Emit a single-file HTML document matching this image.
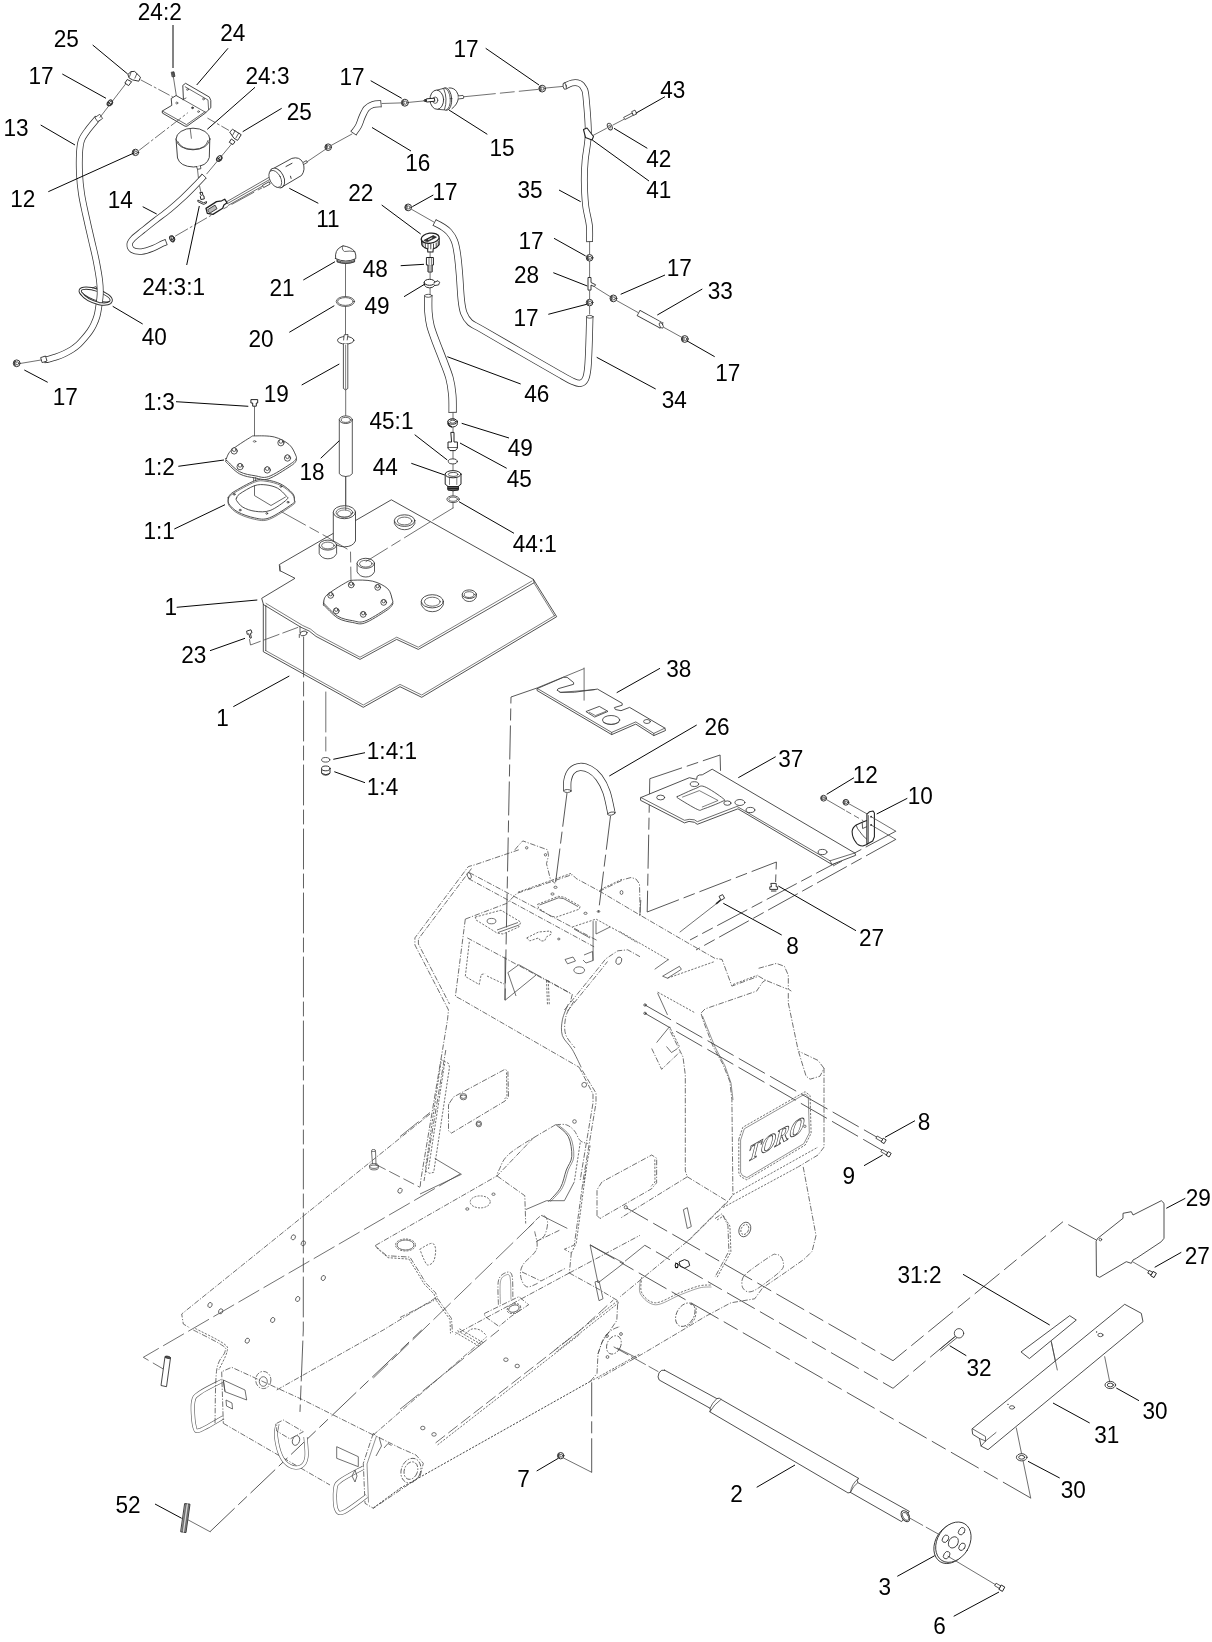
<!DOCTYPE html>
<html><head><meta charset="utf-8"><title>Parts diagram</title>
<style>
html,body{margin:0;padding:0;background:#fff;}
body{width:1212px;height:1642px;overflow:hidden;font-family:"Liberation Sans",sans-serif;}
svg{display:block;}
</style></head><body>
<svg width="1212" height="1642" viewBox="0 0 1212 1642">
<rect x="0" y="0" width="1212" height="1642" fill="#fff"/>
<g id="frame" fill="none" stroke="#484848" stroke-width="0.78"><path d="M537 688 L511 697 L505 1000" stroke="#3a3a3a" stroke-width="0.85" stroke-dasharray="34 5 12 5"/>
<path d="M567 793 L555 887" stroke="#3a3a3a" stroke-width="0.85" stroke-dasharray="34 5 12 5"/>
<path d="M610.5 816 L598.5 912" stroke="#3a3a3a" stroke-width="0.85" stroke-dasharray="34 5 12 5"/>
<path d="M649.8 778.7 L720.1 755 L721.1 792" stroke="#3a3a3a" stroke-width="0.85" stroke-dasharray="34 5 12 5"/>
<path d="M649.8 778.7 L647.2 912" stroke="#3a3a3a" stroke-width="0.85" stroke-dasharray="34 5 12 5"/>
<path d="M895.8 831.2 L690 940" stroke="#3a3a3a" stroke-width="0.85" stroke-dasharray="34 5 12 5"/>
<path d="M895.8 839.4 L696 950" stroke="#3a3a3a" stroke-width="0.85" stroke-dasharray="34 5 12 5"/>
<path d="M833 866 L842 861" stroke="#444" stroke-width="0.8"/>
<path d="M647.2 912 L776.4 862 L775.6 882" stroke="#3a3a3a" stroke-width="0.85" stroke-dasharray="34 5 12 5"/>
<path d="M645 1005 L881 1139.5" stroke="#3a3a3a" stroke-width="0.85" stroke-dasharray="30 6"/>
<path d="M645 1013.3 L886 1152.5" stroke="#3a3a3a" stroke-width="0.85" stroke-dasharray="30 6"/>
<path d="M1096.3 1240 L1063 1221.7 L893 1360.7 L626.7 1208" stroke="#3a3a3a" stroke-width="0.85" stroke-dasharray="32 6 16 6"/>
<path d="M954.7 1336.7 L893 1388.3 L644.8 1245.3" stroke="#3a3a3a" stroke-width="0.85" stroke-dasharray="32 6 16 6"/>
<path d="M1030.7 1498 L590.1 1244.9" stroke="#3a3a3a" stroke-width="0.85" stroke-dasharray="32 6 16 6"/>
<path d="M591.7 1472.3 V1382" stroke="#3a3a3a" stroke-width="0.85" stroke-dasharray="34 5 12 5"/>
<path d="M210 1531.7 L421.7 1330" stroke="#3a3a3a" stroke-width="0.85" stroke-dasharray="34 5 12 5"/>
<path d="M518.8 849.8 L475.2 864.7 L468.3 866.6 L414.9 937.9 L414.9 944.9 L446.5 1006.0 L448.5 1010.0 L447.5 1019.8 L442.6 1049.5 L420.8 1180.0 L420.2 1187.0" stroke-dasharray="5.5 1.6 1.2 1.6"/>
<path d="M471.5 868.5 L418.4 939.0 L418.4 944.0 L449.5 1004.0" stroke-dasharray="5.5 1.6 1.2 1.6"/>
<path d="M445.8 1050.0 L424.0 1181.0" stroke-dasharray="5.5 1.6 1.2 1.6"/>
<path d="M514.9 849.8 L518.0 846.0 L522.8 840.9 L547.5 849.8 L548.5 855.7 L546.5 863.7 L550.5 879.5 L556.4 884.5" stroke-dasharray="5.5 1.6 1.2 1.6"/>
<ellipse cx="526.7" cy="847.8" rx="1.2" ry="1.2" />
<ellipse cx="545.5" cy="854.8" rx="1.2" ry="1.2" />
<path d="M469.3 872.6 L598.0 940.9" stroke-dasharray="5.5 1.6 1.2 1.6"/>
<path d="M468.3 878.5 L594.1 946.8" stroke-dasharray="5.5 1.6 1.2 1.6"/>
<ellipse cx="469.2" cy="875.6" rx="1.8" ry="3.2" transform="rotate(-25.0 469.2 875.6)" />
<path d="M465.3 919.1 L506.9 903.3 L516.8 893.4 L572.3 874.6 L576.2 878.5 L600.0 891.4 L640.0 915.1 L687.3 942.6 L715.0 958.4 L722.0 959.4 L731.9 986.1 L758.6 976.2 L765.5 980.2 L787.3 989.1" stroke-dasharray="5.5 1.6 1.2 1.6"/>
<path d="M518.0 892.2 L571.5 873.2" stroke-dasharray="2.2 1.4"/>
<path d="M465.3 919.1 L455.4 996.3 L462.4 1000.0 L579.2 1067.3" stroke-dasharray="5.5 1.6 1.2 1.6"/>
<path d="M467.3 937.9 L572.3 994.4 L570.3 1002.3" stroke-dasharray="5.5 1.6 1.2 1.6"/>
<path d="M537.6 904.3 L558.4 896.3 L564.4 897.3 L580.2 906.2 L579.2 909.2 L556.4 917.1 L550.5 916.1 L538.6 908.2 Z" stroke-dasharray="2.2 1.4"/>
<path d="M539.5 905.0 L558.6 897.8 L563.8 898.7 L578.0 906.6"/>
<path d="M475.2 917.1 L501.0 910.2 L520.8 922.1 L518.8 927.0 L503.0 934.0 L497.0 933.0 L476.2 920.1 Z" stroke-dasharray="2.2 1.4"/>
<path d="M497.0 930.0 L518.0 922.5"/>
<path d="M498.0 932.5 L519.0 925.0"/>
<ellipse cx="491.5" cy="921.1" rx="4.4" ry="2.7" />
<path d="M526.7 937.9 L538.6 932.0 L550.5 931.0 L551.5 934.0 L546.5 936.9 L544.6 940.9 L540.6 940.9 L538.6 937.9 L529.7 940.9 Z" stroke-dasharray="2.2 1.4"/>
<path d="M565.0 959.5 L573.0 957.0 L575.5 961.0 L567.5 963.8 Z"/>
<ellipse cx="579.2" cy="970.2" rx="5.4" ry="3.4" />
<ellipse cx="558.8" cy="939.0" rx="1.2" ry="0.9" />
<ellipse cx="552.5" cy="894.0" rx="1.6" ry="1.1" />
<ellipse cx="555.5" cy="887.3" rx="1.6" ry="1.1" />
<ellipse cx="585.5" cy="913.3" rx="1.6" ry="1.1" />
<ellipse cx="598.5" cy="911.5" rx="1.3" ry="0.9" />
<path d="M572.3 927.0 L596.0 919.1 L617.8 931.0 L637.6 942.9" stroke-dasharray="2.2 1.4"/>
<path d="M593.1 921.1 L593.1 960.7"/>
<path d="M596.0 921.0 L596.0 934.0 L610.0 927.0"/>
<path d="M574.0 929.0 L590.0 938.0"/>
<path d="M584.0 955.0 L592.5 951.5 L593.0 960.5 L586.0 963.0 L583.0 960.0"/>
<path d="M469.3 941.9 L465.3 976.5 L479.2 984.5 L481.2 974.6 L485.1 973.6" stroke-dasharray="2.2 1.4"/>
<path d="M487.0 976.0 L504.0 984.0" stroke-dasharray="2.2 1.4"/>
<path d="M505.0 956.7 L505.0 1000.3 L536.6 974.6 L518.8 964.7 L507.9 972.6 L516.0 996.0"/>
<path d="M546.5 980.5 L547.5 1005.2" stroke-dasharray="2.2 1.4"/>
<path d="M548.3 980.5 L549.3 1005.2" stroke-dasharray="2.2 1.4"/>
<path d="M536.6 974.6 L553.0 983.5 L570.0 993.0" stroke-dasharray="5.5 1.6 1.2 1.6"/>
<path d="M564.4 1010.0 L598.0 968.6 L605.9 958.7 L617.8 950.8 L627.7 949.8 L640.0 956.7" stroke-dasharray="5.5 1.6 1.2 1.6"/>
<path d="M567.5 1011.0 L600.5 970.5 L607.5 961.5" stroke-dasharray="5.5 1.6 1.2 1.6"/>
<ellipse cx="618.8" cy="960.7" rx="2.8" ry="3.8" transform="rotate(20.0 618.8 960.7)" />
<path d="M599.0 891.4 L623.8 879.5 L631.0 877.5 L636.0 879.0 L639.5 884.0 L640.2 915.0" stroke-dasharray="5.5 1.6 1.2 1.6"/>
<path d="M600.5 889.5 L622.5 879.0" stroke-dasharray="2.2 1.4"/>
<ellipse cx="621.5" cy="892.5" rx="1.4" ry="2.0" />
<path d="M758.6 968.3 L776.4 963.4 L784.4 966.3 L788.3 975.2 L788.3 989.1 L791.3 991.1" stroke-dasharray="5.5 1.6 1.2 1.6"/>
<path d="M733.0 984.5 L757.5 975.2" stroke-dasharray="2.2 1.4"/>
<path d="M701.2 1012.9 L705.1 1008.9 L756.6 991.1 L762.6 982.2 L765.5 980.2" stroke-dasharray="5.5 1.6 1.2 1.6"/>
<path d="M701.2 1013.9 L703.2 1020.8 L713.1 1046.5 L723.0 1064.4 L729.9 1081.8 L731.9 1099.6 L732.9 1194.7 L727.9 1201.6 L687.3 1176.8 L685.3 1170.9 L685.3 1075.0 L683.0 1057.0 L669.5 1029.7" stroke-dasharray="5.5 1.6 1.2 1.6"/>
<path d="M702.5 1016.0 L715.0 1047.0 L725.0 1066.0 L731.0 1083.0 L733.0 1100.0" stroke-width="0.6"/>
<path d="M788.3 993.1 L788.3 1003.0 L798.2 1050.5 L806.1 1076.2 L810.1 1079.2 L820.0 1076.2 L824.0 1068.3 L824.0 1147.1 L818.0 1155.0 L798.2 1166.9" stroke-dasharray="5.5 1.6 1.2 1.6"/>
<path d="M824.0 1068.3 L818.0 1060.4 L799.2 1051.5" stroke-dasharray="5.5 1.6 1.2 1.6"/>
<path d="M732.9 1194.7 L818.0 1147.1" stroke-dasharray="2.2 1.4"/>
<path d="M723.0 1207.5 L798.2 1166.9" stroke-dasharray="2.2 1.4"/>
<path d="M803.2 1166.9 L816.0 1235.4 L812.1 1251.3 L804.2 1259.2 L784.4 1273.1 L762.6 1287.9 L754.7 1298.8 L730.9 1302.8 L705.1 1316.6 L685.3 1328.5 L641.8 1354.3 L598.0 1379.0" stroke-dasharray="5.5 1.6 1.2 1.6"/>
<path d="M738.8 1139.2 L742.8 1127.3 L805.1 1091.7 L810.1 1095.6 L811.1 1133.3 L805.1 1145.1 L746.7 1179.8 L740.8 1176.8 L738.8 1172.9 Z" stroke-dasharray="2.2 1.4"/>
<path d="M740.6 1140.0 L744.3 1128.8 L805.0 1094.0 L808.3 1096.8 L809.3 1133.0 L803.8 1143.7 L746.9 1177.6 L742.3 1175.4 L740.6 1172.3 Z" stroke-width="0.6"/>
<g transform="matrix(0.875 -0.485 -0.25 1 746.5 1162.5) scale(0.01061 -0.01221)" fill="none" stroke="#3c3c3c" stroke-width="74.5" stroke-dasharray="none"><path transform="translate(0 0)" d="M310 0V73L523 100V1235H472Q243 1235 150 1215L123 966H32V1341H1335V966H1243L1216 1215Q1133 1233 888 1233H839V100L1052 73V0Z"/><path transform="translate(1366 0)" d="M432 672Q432 353 519.5 216.5Q607 80 797 80Q986 80 1073.5 217.0Q1161 354 1161 672Q1161 989 1073.5 1122.0Q986 1255 797 1255Q607 1255 519.5 1122.0Q432 989 432 672ZM100 672Q100 1356 797 1356Q1141 1356 1317.0 1182.5Q1493 1009 1493 672Q1493 331 1315.0 155.5Q1137 -20 797 -20Q458 -20 279.0 155.0Q100 330 100 672Z"/><path transform="translate(2959 0)" d="M523 568V100L695 73V0H48V73L207 100V1242L35 1268V1341H676Q972 1341 1118.0 1250.0Q1264 1159 1264 966Q1264 678 994 596L1352 100L1497 73V0H1063L689 568ZM952 964Q952 1114 890.0 1172.5Q828 1231 663 1231H523V678H668Q822 678 887.0 742.0Q952 806 952 964Z"/><path transform="translate(4438 0)" d="M432 672Q432 353 519.5 216.5Q607 80 797 80Q986 80 1073.5 217.0Q1161 354 1161 672Q1161 989 1073.5 1122.0Q986 1255 797 1255Q607 1255 519.5 1122.0Q432 989 432 672ZM100 672Q100 1356 797 1356Q1141 1356 1317.0 1182.5Q1493 1009 1493 672Q1493 331 1315.0 155.5Q1137 -20 797 -20Q458 -20 279.0 155.0Q100 330 100 672Z"/></g>
<ellipse cx="804.8" cy="1126.3" rx="1.2" ry="1.2" />
<path d="M657.6 992.1 L695.2 1012.9" stroke-dasharray="2.2 1.4"/>
<path d="M657.6 993.1 L667.5 1014.9"/>
<path d="M654.7 969.3 L668.5 959.4"/>
<path d="M662.6 976.2 L679.4 966.3 L681.4 969.3 L667.5 978.2 Z"/>
<path d="M667.5 978.2 L715.0 961.4" stroke-dasharray="2.2 1.4"/>
<path d="M620.0 931.7 L669.5 960.4" stroke-dasharray="2.2 1.4"/>
<path d="M651.7 1048.5 L661.6 1069.3 L679.4 1052.5" stroke-dasharray="5.5 1.6 1.2 1.6"/>
<path d="M666.5 1046.5 L671.5 1052.5 L677.5 1048.5"/>
<path d="M670.5 1028.7 L679.4 1046.5" stroke-dasharray="2.2 1.4"/>
<path d="M656.6 1042.6 L669.5 1026.7"/>
<path d="M640.8 900.0 L639.8 915.8"/>
<path d="M582.2 1070.3 L596.0 1093.1 L596.0 1103.0 L583.2 1180.0 L574.3 1245.0 L564.4 1249.2 L571.3 1253.2 L569.3 1273.0" stroke-dasharray="5.5 1.6 1.2 1.6"/>
<path d="M579.2 1067.3 L593.0 1094.0 L593.0 1103.0 L580.2 1180.0" stroke-dasharray="5.5 1.6 1.2 1.6"/>
<path d="M586.1 1170.0 L576.2 1243.3 L571.3 1253.2" stroke-dasharray="2.2 1.4"/>
<path d="M568.3 1004.0 C567.3 1006.6 563.4 1014.5 562.4 1019.8 C561.4 1025.1 560.8 1030.6 562.4 1035.6 C564.0 1040.5 569.2 1044.2 572.3 1049.5 C575.4 1054.8 579.7 1064.3 581.2 1067.3"/>
<path d="M574.0 1001.0 C572.7 1003.5 567.4 1010.5 566.0 1016.0 C564.6 1021.5 564.0 1028.7 565.5 1034.0 C567.0 1039.3 573.4 1045.7 575.0 1048.0" stroke-dasharray="5.5 1.6 1.2 1.6"/>
<ellipse cx="584.2" cy="1084.8" rx="2.4" ry="2.4" />
<path d="M449.5 1103.0 L453.5 1097.0 L505.0 1069.3 L507.9 1071.3 L508.5 1097.0 L505.0 1101.0 L451.5 1133.1 L448.5 1130.7 L448.5 1105.0 Z" stroke-dasharray="5.5 1.6 1.2 1.6"/>
<path d="M506.5 1072.5 L507.0 1096.5 L504.0 1099.5" stroke-dasharray="2.2 1.4"/>
<ellipse cx="463.4" cy="1096.0" rx="3.2" ry="2.4" />
<ellipse cx="463.4" cy="1097.4" rx="3.2" ry="2.4" />
<ellipse cx="478.8" cy="1123.2" rx="2.6" ry="2.2" />
<ellipse cx="478.8" cy="1124.6" rx="2.6" ry="2.2" />
<path d="M440.6 1059.4 L448.5 1063.4 L449.5 1067.3 L433.7 1172.3 L429.7 1173.3 L423.8 1170.3" stroke-dasharray="2.2 1.4"/>
<path d="M444.5 1064.0 L428.5 1169.0" stroke-dasharray="2.2 1.4"/>
<path d="M441.0 1062.0 L425.5 1168.0" stroke-dasharray="2.2 1.4"/>
<path d="M555.4 1124.8 C557.2 1124.8 563.1 1123.8 566.3 1124.8 C569.4 1125.8 572.0 1128.1 574.3 1130.7 C576.6 1133.3 577.9 1138.4 580.2 1140.6 C582.5 1142.8 586.8 1143.1 588.1 1143.6" stroke-dasharray="5.5 1.6 1.2 1.6"/>
<path d="M556.4 1125.1 C558.4 1127.0 565.7 1131.4 568.3 1136.6 C570.9 1141.8 572.1 1150.8 571.8 1156.4 C571.5 1162.0 568.2 1164.8 566.3 1170.0 C564.4 1175.2 563.4 1182.5 560.4 1187.8 C557.4 1193.1 550.5 1199.4 548.5 1201.7" stroke-width="0.9"/>
<path d="M558.4 1125.1 C560.4 1127.0 567.7 1131.4 570.3 1136.6 C572.9 1141.8 574.1 1150.8 573.8 1156.4 C573.5 1162.0 570.2 1164.8 568.3 1170.0 C566.4 1175.2 565.4 1182.5 562.4 1187.8 C559.4 1193.1 552.5 1199.4 550.5 1201.7" stroke-width="0.6"/>
<path d="M555.4 1124.8 C548.0 1129.4 520.3 1145.0 510.9 1152.5 C501.5 1160.0 501.3 1166.1 499.0 1170.0 C496.7 1173.9 497.3 1174.9 497.0 1175.9" stroke-dasharray="5.5 1.6 1.2 1.6"/>
<ellipse cx="574.5" cy="1121.5" rx="1.8" ry="1.8" />
<path d="M580.2 1142.6 L574.3 1181.9" stroke-dasharray="2.2 1.4"/>
<path d="M590.1 1145.6 L583.5 1185.0" stroke-dasharray="2.2 1.4"/>
<path d="M400.0 1136.6 L430.0 1112.5" stroke-dasharray="24 5"/>
<path d="M430.0 1114.0 L181.7 1314.0 L183.3 1324.0 L190.0 1328.0" stroke-dasharray="5.5 1.6 1.2 1.6"/>
<path d="M434.7 1158.4 L461.4 1174.3 L420.0 1194.0"/>
<path d="M460.0 1174.0 L143.3 1357.3 L163.3 1369.0" stroke-dasharray="24 5"/>
<path d="M375.0 1164.0 L420.0 1187.3" stroke-dasharray="12 4"/>
<path d="M534.0 1137.3 L497.0 1175.9 L375.0 1245.7" stroke-dasharray="5.5 1.6 1.2 1.6"/>
<path d="M497.0 1175.9 L524.8 1195.7 L525.7 1223.5" stroke-dasharray="5.5 1.6 1.2 1.6"/>
<path d="M525.7 1209.6 L546.5 1200.7 L564.4 1200.7 L574.3 1181.9"/>
<path d="M371.5 1151.0 L372.5 1164.0"/>
<path d="M375.5 1150.5 L376.0 1164.0"/>
<ellipse cx="373.5" cy="1150.5" rx="2.0" ry="1.0" />
<ellipse cx="374.0" cy="1166.0" rx="4.5" ry="2.4" />
<ellipse cx="374.0" cy="1167.5" rx="4.5" ry="2.4" />
<path d="M375.0 1245.7 L386.7 1255.7 L409.9 1257.1 L419.8 1273.0 L425.7 1282.9 L435.6 1292.8 L437.6 1298.7 L451.5 1318.5 L452.5 1333.4" stroke-dasharray="5.5 1.6 1.2 1.6"/>
<path d="M376.5 1247.7 L388.0 1257.7 L409.0 1259.1 L418.5 1274.5 L424.5 1284.5 L434.0 1294.0 L436.0 1300.0 L450.0 1319.5 L450.5 1333.4" stroke-dasharray="2.2 1.4"/>
<ellipse cx="405.5" cy="1245.0" rx="10.0" ry="6.0"  stroke-dasharray="2 1.2"/>
<ellipse cx="405.5" cy="1245.0" rx="8.5" ry="5.0" />
<path d="M419.8 1249.2 C421.8 1248.2 429.1 1243.3 431.7 1243.3 C434.3 1243.3 435.3 1246.2 435.6 1249.2 C435.9 1252.2 435.0 1258.5 433.7 1261.1 C432.4 1263.7 429.3 1265.3 427.7 1265.0 C426.1 1264.7 425.1 1261.7 423.8 1259.1 C422.5 1256.5 420.5 1250.8 419.8 1249.2" stroke-dasharray="2.2 1.4"/>
<ellipse cx="480.2" cy="1201.9" rx="10.0" ry="6.0"  stroke-dasharray="2 1.2"/>
<ellipse cx="467.3" cy="1209.0" rx="1.6" ry="1.2" />
<ellipse cx="493.5" cy="1194.2" rx="1.6" ry="1.2" />
<path d="M400.0 1317.5 L437.6 1298.7" stroke-dasharray="5.5 1.6 1.2 1.6"/>
<path d="M534.0 1222.3 L373.3 1378.0" stroke-dasharray="24 5"/>
<ellipse cx="293.3" cy="1237.3" rx="2.0" ry="2.6" transform="rotate(25.0 293.3 1237.3)" />
<ellipse cx="303.3" cy="1243.3" rx="2.0" ry="2.6" transform="rotate(25.0 303.3 1243.3)" />
<ellipse cx="210.0" cy="1305.0" rx="2.0" ry="2.6" transform="rotate(25.0 210.0 1305.0)" />
<ellipse cx="220.7" cy="1311.3" rx="2.0" ry="2.6" transform="rotate(25.0 220.7 1311.3)" />
<ellipse cx="323.3" cy="1278.0" rx="2.0" ry="2.6" transform="rotate(25.0 323.3 1278.0)" />
<ellipse cx="297.7" cy="1299.0" rx="2.0" ry="2.6" transform="rotate(25.0 297.7 1299.0)" />
<ellipse cx="272.7" cy="1320.0" rx="2.0" ry="2.6" transform="rotate(25.0 272.7 1320.0)" />
<ellipse cx="247.3" cy="1340.7" rx="2.0" ry="2.6" transform="rotate(25.0 247.3 1340.7)" />
<ellipse cx="400.0" cy="1190.7" rx="2.0" ry="2.6" transform="rotate(25.0 400.0 1190.7)" />
<path d="M528.7 1227.4 C530.9 1225.4 538.5 1216.5 541.6 1215.5 C544.7 1214.5 547.0 1218.2 547.5 1221.5 C548.0 1224.8 546.4 1232.0 544.6 1235.3 C542.8 1238.6 537.9 1240.3 536.6 1241.3" stroke-dasharray="5.5 1.6 1.2 1.6"/>
<path d="M541.6 1215.5 L567.3 1228.4"/>
<path d="M534.7 1231.4 C535.0 1234.4 538.6 1243.6 536.6 1249.2 C534.6 1254.8 525.4 1260.4 522.8 1265.0 C520.2 1269.6 520.1 1273.3 520.8 1276.9 C521.4 1280.5 523.7 1285.8 526.7 1286.8 C529.7 1287.8 536.6 1283.6 538.6 1282.9" stroke-dasharray="5.5 1.6 1.2 1.6"/>
<path d="M536.6 1241.3 L560.0 1230.0" stroke-dasharray="5.5 1.6 1.2 1.6"/>
<path d="M522.0 1272.0 L541.0 1281.0 L566.0 1268.0" stroke-dasharray="5.5 1.6 1.2 1.6"/>
<path d="M498.4 1304.7 C498.4 1300.7 497.3 1286.2 498.4 1280.9 C499.5 1275.6 502.8 1274.0 505.0 1273.0 C507.2 1272.0 510.6 1270.7 511.9 1275.0 C513.2 1279.3 512.7 1294.8 512.9 1298.7" stroke-dasharray="5.5 1.6 1.2 1.6"/>
<path d="M500.4 1304.0 C500.4 1300.3 499.6 1286.7 500.4 1281.9 C501.2 1277.2 503.4 1276.3 505.0 1275.5 C506.6 1274.7 509.0 1273.0 510.0 1277.0 C511.0 1281.0 510.8 1295.8 511.0 1299.5" stroke-width="0.5"/>
<path d="M569.3 1273.0 L455.4 1334.4" stroke-dasharray="5.5 1.6 1.2 1.6"/>
<path d="M569.3 1273.0 L640.0 1235.3" stroke-dasharray="5.5 1.6 1.2 1.6"/>
<path d="M569.3 1273.0 L598.0 1288.8 L617.8 1300.7 L616.8 1320.5 L602.0 1342.3 L598.0 1353.8 L597.0 1373.6 L590.1 1381.5" stroke-dasharray="5.5 1.6 1.2 1.6"/>
<path d="M617.8 1300.7 L554.5 1350.0" stroke-dasharray="2.2 1.4"/>
<path d="M619.0 1302.5 L556.0 1352.0" stroke-dasharray="2.2 1.4"/>
<path d="M595.0 1281.9 L599.0 1280.9 L603.0 1298.7 L599.0 1300.7 Z"/>
<path d="M590.1 1244.9 L598.0 1282.9"/>
<path d="M590.1 1244.9 L623.8 1263.1 L598.0 1282.9"/>
<path d="M597.0 1215.5 L597.0 1189.8 L602.0 1181.9 L651.7 1155.0 L656.7 1158.3 L656.6 1182.8 L651.7 1188.7 L600.0 1218.5 Z" stroke-dasharray="5.5 1.6 1.2 1.6"/>
<path d="M654.8 1159.5 L655.0 1182.0 L650.5 1187.0" stroke-dasharray="2.2 1.4"/>
<path d="M687.3 1176.8 L620.0 1218.4" stroke-dasharray="5.5 1.6 1.2 1.6"/>
<path d="M727.9 1201.6 L689.3 1240.0" stroke-dasharray="5.5 1.6 1.2 1.6"/>
<path d="M484.2 1313.6 L518.8 1296.7 L528.7 1304.7 L510.9 1316.5 L499.0 1326.4 L485.1 1316.5 Z" stroke-dasharray="5.5 1.6 1.2 1.6"/>
<ellipse cx="513.9" cy="1308.6" rx="7.0" ry="4.6" transform="rotate(-20.0 513.9 1308.6)"  stroke-dasharray="2 1.2"/>
<ellipse cx="513.9" cy="1308.6" rx="5.4" ry="3.4" transform="rotate(-20.0 513.9 1308.6)" />
<path d="M455.4 1332.4 L479.2 1346.2" stroke-dasharray="2.2 1.4"/>
<path d="M457.4 1330.6 L481.2 1344.4" stroke-dasharray="2.2 1.4"/>
<path d="M459.4 1328.8 L483.2 1342.6" stroke-dasharray="2.2 1.4"/>
<path d="M465.0 1334.0 C466.2 1333.2 469.5 1329.7 472.0 1329.0 C474.5 1328.3 477.7 1329.0 480.0 1330.0 C482.3 1331.0 485.0 1334.2 486.0 1335.0" stroke-dasharray="2.2 1.4"/>
<path d="M741.8 1281.0 C742.6 1279.7 741.9 1277.2 746.7 1273.1 C751.5 1269.0 765.6 1259.3 770.5 1256.2 C775.4 1253.1 774.4 1254.5 776.0 1254.5 C777.6 1254.5 779.2 1254.8 780.4 1256.2 C781.6 1257.7 783.4 1260.7 783.4 1263.2 C783.4 1265.7 784.5 1267.0 780.4 1271.1 C776.3 1275.2 763.9 1284.4 758.6 1287.9 C753.3 1291.4 751.3 1291.9 748.7 1291.9 C746.1 1291.9 743.9 1289.7 742.8 1287.9 C741.6 1286.1 742.0 1282.2 741.8 1281.0" stroke-dasharray="5.5 1.6 1.2 1.6"/>
<ellipse cx="744.8" cy="1229.5" rx="5.6" ry="7.6" transform="rotate(25.0 744.8 1229.5)" />
<ellipse cx="744.8" cy="1229.5" rx="3.6" ry="5.2" transform="rotate(25.0 744.8 1229.5)"  stroke-dasharray="2 1.2"/>
<path d="M715.0 1218.6 L722.0 1213.7 L727.9 1225.5 L728.9 1251.3 L715.0 1277.0" stroke-dasharray="5.5 1.6 1.2 1.6"/>
<path d="M717.0 1220.0 L723.5 1216.0 L729.9 1226.0 L730.9 1251.8 L717.0 1277.5" stroke-dasharray="2.2 1.4"/>
<path d="M683.4 1209.7 L687.3 1207.7 L691.3 1226.5 L687.3 1228.5 Z"/>
<path d="M679 1262l5.5-2.4l4 1.6l1.2 4.4l-5 2.6l-4.4-1.8z" stroke="#222" stroke-width="1"/><ellipse cx="676.6" cy="1265.4" rx="1.4" ry="2.2" stroke="#111" stroke-width="1.1"/>
<path d="M641.8 1277.0 C641.8 1279.7 639.5 1288.6 641.8 1292.9 C644.1 1297.2 649.3 1302.8 655.6 1302.8 C661.9 1302.8 672.1 1295.7 679.4 1292.9 C686.7 1290.1 693.9 1287.2 699.2 1285.9 C704.5 1284.6 709.1 1285.2 711.1 1285.0" stroke-dasharray="2.2 1.4"/>
<path d="M640.5 1279.0 C640.5 1281.5 638.0 1289.7 640.5 1294.0 C643.0 1298.3 649.0 1304.6 655.6 1304.8 C662.2 1305.0 672.7 1297.7 680.0 1294.9 C687.3 1292.1 694.2 1289.2 699.5 1287.9 C704.8 1286.6 709.5 1287.2 711.5 1287.0" stroke-width="0.5"/>
<ellipse cx="685.3" cy="1314.7" rx="8.6" ry="12.6" transform="rotate(30.0 685.3 1314.7)"  stroke-dasharray="5 1.5 1.5 1.5"/>
<path d="M690.0 1304.0 C691.0 1304.7 695.3 1305.3 696.0 1308.0 C696.7 1310.7 695.7 1316.8 694.0 1320.0 C692.3 1323.2 687.3 1325.8 686.0 1327.0" stroke-dasharray="2.2 1.4"/>
<path d="M687.3 1241.4 L620.0 1296.8" stroke-dasharray="5.5 1.6 1.2 1.6"/>
<path d="M725.0 1203.8 L687.3 1241.4" stroke-dasharray="5.5 1.6 1.2 1.6"/>
<path d="M644.8 1245.3 L625.0 1261.2"/>
<ellipse cx="625.8" cy="1207.3" rx="1.6" ry="1.6" />
<path d="M598.0 1353.8 C599.0 1351.2 601.7 1341.9 604.0 1337.9 C606.3 1333.9 609.2 1331.9 611.9 1330.0 C614.6 1328.1 618.6 1327.1 620.0 1326.5" stroke-dasharray="5.5 1.6 1.2 1.6"/>
<ellipse cx="613.9" cy="1344.9" rx="6.8" ry="9.6" transform="rotate(25.0 613.9 1344.9)"  stroke-dasharray="5 1.5 1.5 1.5"/>
<ellipse cx="607.0" cy="1336.0" rx="1.4" ry="1.4" />
<ellipse cx="621.0" cy="1334.0" rx="1.4" ry="1.4" />
<ellipse cx="607.5" cy="1357.0" rx="1.4" ry="1.4" />
<path d="M590.1 1381.5 L640.0 1353.8" stroke-dasharray="2.2 1.4"/>
<path d="M617.0 1348.0 L637.0 1358.0"/>
<path d="M400.0 1488.4 L590.1 1381.5" stroke-dasharray="2.2 1.4" stroke-width="1.0"/>
<path d="M373.3 1508.0 L400.0 1488.4" stroke-dasharray="2.2 1.4" stroke-width="1.0"/>
<path d="M435.6 1442.9 L578.2 1332.0 L613.3 1300.0" stroke-dasharray="12 4"/>
<path d="M437.6 1444.9 L580.2 1334.0" stroke-dasharray="2.2 1.4"/>
<path d="M373.3 1435.0 L486.7 1336.7" stroke-dasharray="5.5 1.6 1.2 1.6"/>
<path d="M373.3 1435.0 L303.3 1400.0 L231.7 1367.3 L221.7 1371.7" stroke-dasharray="5.5 1.6 1.2 1.6"/>
<path d="M223.3 1423.3 L330.0 1485.0" stroke-dasharray="5.5 1.6 1.2 1.6"/>
<path d="M276.7 1390.0 L383.3 1330.0 L436.7 1297.3" stroke-dasharray="5.5 1.6 1.2 1.6"/>
<path d="M400.0 1409.2 L469.3 1353.8 L499.0 1330.0" stroke-dasharray="24 5"/>
<ellipse cx="505.9" cy="1359.7" rx="2.2" ry="1.8" />
<ellipse cx="517.2" cy="1366.0" rx="2.2" ry="1.8" />
<ellipse cx="422.8" cy="1428.0" rx="2.2" ry="1.8" />
<ellipse cx="434.0" cy="1434.4" rx="2.2" ry="1.8" />
<ellipse cx="410.9" cy="1470.6" rx="9.6" ry="12.6" transform="rotate(20.0 410.9 1470.6)"  stroke-dasharray="5 1.5 1.5 1.5"/>
<ellipse cx="410.9" cy="1470.6" rx="6.6" ry="9.0" transform="rotate(20.0 410.9 1470.6)"  stroke-dasharray="5 1.5 1.5 1.5"/>
<path d="M373.3 1433.3 L363.3 1463.3 L365.0 1503.3 L373.3 1508.3 L420.0 1476.7 L423.3 1463.3 L416.0 1455.0 L400.0 1448.0 L376.0 1436.0 Z" stroke-dasharray="5.5 1.6 1.2 1.6"/>
<path d="M376.5 1436.0 L367.0 1464.0 L368.5 1502.5" stroke-width="0.6"/>
<path d="M379.0 1437.0 L381.5 1446.0 L376.0 1456.0"/>
<path d="M384.0 1448.0 L388.0 1443.5 L391.5 1445.5"/>
<path d="M221.7 1381.0 C218.1 1383.0 204.8 1389.2 200.0 1392.7 C195.2 1396.2 194.1 1396.2 193.2 1401.7 C192.2 1407.2 193.2 1421.0 194.3 1425.7 C195.4 1430.5 195.0 1431.6 199.8 1430.2 C204.6 1428.8 219.4 1419.5 223.3 1417.3" stroke="#5a5a5a" stroke-width="4.2" stroke-dasharray="none"/><path d="M221.7 1381.0 C218.1 1383.0 204.8 1389.2 200.0 1392.7 C195.2 1396.2 194.1 1396.2 193.2 1401.7 C192.2 1407.2 193.2 1421.0 194.3 1425.7 C195.4 1430.5 195.0 1431.6 199.8 1430.2 C204.6 1428.8 219.4 1419.5 223.3 1417.3" stroke="#fff" stroke-width="3.0"/>
<path d="M363.3 1467.7 C359.4 1469.9 344.7 1477.3 340.0 1481.0 C335.3 1484.7 335.8 1485.3 335.2 1490.0 C334.6 1494.7 334.8 1505.3 336.2 1509.0 C337.6 1512.7 338.7 1514.2 343.8 1512.0 C348.9 1509.8 362.9 1498.7 366.7 1496.0" stroke="#5a5a5a" stroke-width="4.2" stroke-dasharray="none"/><path d="M363.3 1467.7 C359.4 1469.9 344.7 1477.3 340.0 1481.0 C335.3 1484.7 335.8 1485.3 335.2 1490.0 C334.6 1494.7 334.8 1505.3 336.2 1509.0 C337.6 1512.7 338.7 1514.2 343.8 1512.0 C348.9 1509.8 362.9 1498.7 366.7 1496.0" stroke="#fff" stroke-width="3.0"/>
<path d="M277.5 1424.0 C277.2 1426.0 275.4 1430.7 276.0 1436.0 C276.6 1441.3 278.7 1451.0 281.0 1456.0 C283.3 1461.0 286.7 1464.2 290.0 1466.0 C293.3 1467.8 298.2 1468.0 301.0 1466.5 C303.8 1465.0 305.8 1461.9 306.5 1457.0 C307.2 1452.1 305.7 1440.3 305.5 1437.0" stroke="#5a5a5a" stroke-width="4.0" stroke-dasharray="none"/><path d="M277.5 1424.0 C277.2 1426.0 275.4 1430.7 276.0 1436.0 C276.6 1441.3 278.7 1451.0 281.0 1456.0 C283.3 1461.0 286.7 1464.2 290.0 1466.0 C293.3 1467.8 298.2 1468.0 301.0 1466.5 C303.8 1465.0 305.8 1461.9 306.5 1457.0 C307.2 1452.1 305.7 1440.3 305.5 1437.0" stroke="#fff" stroke-width="2.8"/>
<path d="M276.7 1423.3 L283.3 1420.0 L303.3 1431.7 L290.0 1439.0 L276.7 1431.0 Z" stroke-dasharray="5.5 1.6 1.2 1.6"/>
<ellipse cx="296.0" cy="1440.5" rx="3.5" ry="5.0" transform="rotate(20.0 296.0 1440.5)" />
<path d="M223.3 1380.0 L245.0 1390.0 L246.7 1400.0 L225.0 1391.7 Z"/>
<path d="M223.3 1380.0 L225.0 1391.7"/>
<path d="M336.7 1446.7 L358.3 1456.7 L358.3 1466.7 L336.7 1458.3 Z"/>
<path d="M226.0 1400.0 L232.0 1403.0 L232.5 1409.0 L226.5 1406.0 Z"/>
<ellipse cx="263.3" cy="1380.0" rx="7.6" ry="8.6"  stroke-dasharray="5 1.5 1.5 1.5"/>
<ellipse cx="263.3" cy="1381.5" rx="4.0" ry="4.8" />
<path d="M193.3 1330.0 C198.0 1332.5 216.4 1341.4 221.7 1345.0 C227.0 1348.6 225.8 1347.5 225.0 1351.7 C224.2 1355.9 218.4 1358.1 216.7 1370.0 C215.0 1381.9 215.3 1414.4 215.0 1423.3" stroke-dasharray="5.5 1.6 1.2 1.6"/>
<path d="M195.3 1328.5 C200.0 1331.0 218.2 1339.6 223.5 1343.5 C228.8 1347.4 227.8 1347.3 227.0 1351.7 C226.2 1356.1 220.1 1367.0 218.7 1370.0" stroke-dasharray="2.2 1.4"/>
<path d="M221.7 1371.7 L223.3 1423.3" stroke-dasharray="5.5 1.6 1.2 1.6"/>
<path d="M355.0 1470.0 L357.0 1476.0 L355.0 1482.0 L352.0 1476.0 Z"/>
<path d="M165 1356.7l5.5 1.2l-4 28.8l-5.5-1.2z" fill="#fff" stroke="#333" stroke-width="0.9"/><ellipse cx="167.8" cy="1357.3" rx="2.8" ry="1.1" transform="rotate(12 167.8 1357.3)" fill="#555" stroke="#222" stroke-width="0.7"/></g>
<g id="parts" fill="none" stroke="#3a3a3a" stroke-width="0.8" stroke-linecap="round" stroke-linejoin="round"><ellipse cx="95.7" cy="295.6" rx="16.3" ry="5.6" transform="rotate(19.0 95.7 295.6)" stroke="#303030" stroke-width="3.2"/>
<ellipse cx="95.7" cy="295.6" rx="16.3" ry="5.6" transform="rotate(19.0 95.7 295.6)" stroke="#fff" stroke-width="1.35"/>
<path d="M97.6 118.1 C96.0 120.0 90.9 125.8 88.2 129.5 C85.5 133.2 83.0 136.2 81.5 140.2 C80.0 144.2 79.8 148.0 79.5 153.6 C79.2 159.2 79.2 167.0 79.5 173.7 C79.8 180.4 80.5 187.0 81.5 193.7 C82.5 200.4 83.8 206.0 85.5 213.8 C87.2 221.6 89.8 232.8 91.6 240.6 C93.4 248.4 94.9 254.0 96.2 260.7 C97.5 267.4 98.9 275.2 99.6 280.8 C100.3 286.4 100.3 290.2 100.2 294.2 C100.1 298.2 99.5 301.4 99.0 305.0 C98.5 308.6 97.9 312.7 97.0 316.0 C96.1 319.3 94.7 322.5 93.5 325.0 C92.3 327.5 91.5 328.8 90.0 331.0 C88.5 333.2 86.4 335.8 84.5 338.0 C82.6 340.2 80.6 342.6 78.5 344.5 C76.4 346.4 74.3 348.0 72.0 349.5 C69.7 351.0 67.4 352.2 64.7 353.5 C62.0 354.8 58.7 356.1 56.0 357.0 C53.3 357.9 50.4 358.7 48.5 359.2 C46.6 359.7 45.2 359.7 44.5 359.8" stroke="#333333" stroke-width="6.8" stroke-linecap="butt" fill="none"/><path d="M97.6 118.1 C96.0 120.0 90.9 125.8 88.2 129.5 C85.5 133.2 83.0 136.2 81.5 140.2 C80.0 144.2 79.8 148.0 79.5 153.6 C79.2 159.2 79.2 167.0 79.5 173.7 C79.8 180.4 80.5 187.0 81.5 193.7 C82.5 200.4 83.8 206.0 85.5 213.8 C87.2 221.6 89.8 232.8 91.6 240.6 C93.4 248.4 94.9 254.0 96.2 260.7 C97.5 267.4 98.9 275.2 99.6 280.8 C100.3 286.4 100.3 290.2 100.2 294.2 C100.1 298.2 99.5 301.4 99.0 305.0 C98.5 308.6 97.9 312.7 97.0 316.0 C96.1 319.3 94.7 322.5 93.5 325.0 C92.3 327.5 91.5 328.8 90.0 331.0 C88.5 333.2 86.4 335.8 84.5 338.0 C82.6 340.2 80.6 342.6 78.5 344.5 C76.4 346.4 74.3 348.0 72.0 349.5 C69.7 351.0 67.4 352.2 64.7 353.5 C62.0 354.8 58.7 356.1 56.0 357.0 C53.3 357.9 50.4 358.7 48.5 359.2 C46.6 359.7 45.2 359.7 44.5 359.8" stroke="#fff" stroke-width="5.3" stroke-linecap="butt" fill="none"/><path d="M95.3 116.2L99.9 120.0" stroke="#333333" stroke-width="0.76"/><path d="M44.9 362.8L44.1 356.8" stroke="#333333" stroke-width="0.76"/>
<path d="M81.2 293.2 Q86 300.5 99 303.6 Q107 305 110.6 302.4" stroke="#303030" stroke-width="3.2" stroke-linecap="butt"/><path d="M81.2 293.2 Q86 300.5 99 303.6 Q107 305 110.6 302.4" stroke="#fff" stroke-width="1.35" stroke-linecap="butt"/>
<path d="M92.5 287.8l3.6-1.2l0.8 2.4" stroke="#303030" stroke-width="0.81"/>
<path d="M41 357.5l4.5-1.5l1.5 5l-4.5 1.5z" fill="#fff" stroke="#303030" stroke-width="0.90"/>
<path d="M20.0 363.5L41.0 360.0" stroke="#444" stroke-width="0.76"/>
<circle cx="16.7" cy="363.3" r="3.4" fill="#fff" stroke="#303030" stroke-width="0.99"/>
<path d="M14.8 360.6 A3.4 3.4 0 0 0 14.8 366.0 L16.4 365.2 A2.0 2.0 0 0 1 16.4 361.4 Z" fill="#444" stroke="none"/>
<circle cx="17.2" cy="363.3" r="1.5" fill="#fff" stroke="#3c3c3c" stroke-width="0.76"/>
<path d="M95.2 117.3l4.6-3l2.8 4.2l-4.6 3z" fill="#fff" stroke="#303030"/>
<path d="M126.6 82.7L100.0 117.3" stroke="#444" stroke-width="0.76"/>
<g transform="rotate(40.0 109.8 102.8)"><ellipse cx="109.8" cy="102.8" rx="2.0" ry="3.2" fill="#fff" stroke="#303030" stroke-width="1.17"/><ellipse cx="110.9" cy="102.8" rx="1.6" ry="2.7" fill="none" stroke="#303030" stroke-width="0.76"/><path d="M108.5 103.4h3.5" stroke="#303030" stroke-width="1.08"/></g>
<path d="M127.6 79.7 L131.6 81.7 L128.6 85.6 L125.2 83.3 Z" fill="#fff" stroke="#303030" stroke-width="0.99"/>
<path d="M128.2 74.2 L131.0 71.6 L134.6 71.4 L140.5 77.2 L138.8 81.2 L132.6 79.9 L129.5 78.2 Z" fill="#fff" stroke="#303030" stroke-width="0.99"/>
<path d="M136.8 73.8l-1.9 4.4M131.2 71.8l-1.6 4.6" stroke="#303030" stroke-width="0.76"/>
<path d="M141.0 80.0L172.5 96.8" stroke="#444" stroke-width="0.76" stroke-dasharray="12 3 2 3"/>
<path d="M171.6 72.2l2.4-0.4l0.9 4.6l-2.4 0.4z" fill="#555" stroke="#303030" stroke-width="0.81"/>
<path d="M173.4 77.0L176.6 97.5" stroke="#444" stroke-width="0.76"/>
<path d="M183.1 85.2 L185.6 83.3 L209.4 97.1 L210.8 100.5 L210.8 107.8 L204.9 113.4 L187.0 126.2 L185.0 126.2 L162.3 113.0 L162.3 111.0 L171.8 105.4 L171.2 98.5 L176.1 95.5 L183.1 99.5 Z" fill="#fff" stroke="#303030" stroke-width="0.90"/>
<path d="M183.1 99.5L205.8 112.4M185.2 86.8L208 100l0.6 9.6M183.1 99.5L186 98M162.3 111L186.5 124.6L204.9 111.8" stroke="#3c3c3c" stroke-width="0.76"/>
<circle cx="187.5" cy="89.5" r="0.9" stroke="#3c3c3c" stroke-width="0.66"/><circle cx="203.5" cy="99" r="0.9" stroke="#3c3c3c" stroke-width="0.66"/><circle cx="176.8" cy="103" r="1" stroke="#3c3c3c" stroke-width="0.66"/><circle cx="192.5" cy="107.8" r="0.9" fill="#3c3c3c"/><circle cx="198.5" cy="111.6" r="0.9" stroke="#3c3c3c" stroke-width="0.66"/>
<path d="M139.5 150.0L187.5 113.0" stroke="#444" stroke-width="0.76" stroke-dasharray="12 3 2 3"/>
<circle cx="135.5" cy="152.4" r="3.2" fill="#fff" stroke="#303030" stroke-width="0.99"/>
<path d="M133.7 149.8 A3.2 3.2 0 0 0 133.7 155.0 L135.2 154.2 A1.9 1.9 0 0 1 135.2 150.6 Z" fill="#444" stroke="none"/>
<circle cx="136.0" cy="152.4" r="1.4" fill="#fff" stroke="#3c3c3c" stroke-width="0.76"/>
<path d="M207.8 118.3L228.6 130.2" stroke="#444" stroke-width="0.76" stroke-dasharray="8 3 2 3"/>
<path d="M176 139 L177.5 158 Q180 166.5 193.5 167 Q207 166.5 209.3 157.5 L209.8 139" fill="#fff" stroke="#303030" stroke-width="0.90"/>
<ellipse cx="193.0" cy="139.0" rx="16.9" ry="10.8" fill="#fff" stroke="#303030" stroke-width="0.90"/>
<path d="M177.8 141.5 Q181 149.5 194 149.3 Q206 148.8 208 140.5" stroke="#3c3c3c" stroke-width="0.76"/>
<path d="M190.2 128.5L191.4 138.3" stroke="#444" stroke-width="0.76"/>
<path d="M196.5 166.5l1 2.8l3.4-0.6l-0.5-2.8" fill="#fff" stroke="#303030" stroke-width="0.81"/>
<path d="M197.5 169.5L198.5 178.5" stroke="#444" stroke-width="0.76"/>
<path d="M204.2 176.1 C202.5 177.8 197.9 182.8 194.3 186.5 C190.7 190.2 186.8 194.2 182.7 198.0 C178.6 201.8 174.0 205.9 169.5 209.6 C165.0 213.3 159.9 216.9 155.5 220.3 C151.1 223.7 146.8 227.2 143.1 230.2 C139.4 233.2 135.4 236.1 133.2 238.4 C131.0 240.7 129.8 242.3 129.7 244.2 C129.6 246.1 130.4 248.8 132.4 250.0 C134.4 251.2 138.1 251.9 141.5 251.6 C144.9 251.3 149.4 249.7 153.0 248.3 C156.6 246.9 160.7 244.4 162.9 243.4 C165.1 242.4 165.6 242.3 166.2 242.1" stroke="#333333" stroke-width="6.3" stroke-linecap="butt" fill="none"/><path d="M204.2 176.1 C202.5 177.8 197.9 182.8 194.3 186.5 C190.7 190.2 186.8 194.2 182.7 198.0 C178.6 201.8 174.0 205.9 169.5 209.6 C165.0 213.3 159.9 216.9 155.5 220.3 C151.1 223.7 146.8 227.2 143.1 230.2 C139.4 233.2 135.4 236.1 133.2 238.4 C131.0 240.7 129.8 242.3 129.7 244.2 C129.6 246.1 130.4 248.8 132.4 250.0 C134.4 251.2 138.1 251.9 141.5 251.6 C144.9 251.3 149.4 249.7 153.0 248.3 C156.6 246.9 160.7 244.4 162.9 243.4 C165.1 242.4 165.6 242.3 166.2 242.1" stroke="#fff" stroke-width="4.8" stroke-linecap="butt" fill="none"/><path d="M202.2 174.2L206.2 178.0" stroke="#333333" stroke-width="0.76"/><path d="M165.2 239.5L167.2 244.7" stroke="#333333" stroke-width="0.76"/>
<g transform="rotate(-28.0 172.0 238.8)"><ellipse cx="172.0" cy="238.8" rx="2.0" ry="3.2" fill="#fff" stroke="#303030" stroke-width="1.17"/><ellipse cx="173.1" cy="238.8" rx="1.6" ry="2.7" fill="none" stroke="#303030" stroke-width="0.76"/><path d="M170.7 239.4h3.5" stroke="#303030" stroke-width="1.08"/></g>
<path d="M175.5 236.0L212.8 214.4" stroke="#444" stroke-width="0.76" stroke-dasharray="14 3 2 3"/>
<path d="M224.0 208.6L268.0 184.6" stroke="#444" stroke-width="0.76" stroke-dasharray="4 5 25 5"/>
<path d="M231.7 139.2 L235.0 141.7 L232.9 144.6 L229.6 142.5 Z" fill="#fff" stroke="#303030" stroke-width="0.99"/>
<path d="M230.0 131.8 L232.5 129.3 L241.2 134.7 L238.8 138.6 L237.5 140.4 L234.2 138.4 Z" fill="#fff" stroke="#303030" stroke-width="0.99"/>
<path d="M235 130.9l-2.4 4.4M238.6 133.2l-2.6 4.6" stroke="#303030" stroke-width="0.76"/>
<path d="M231.6 144.0L206.8 173.8" stroke="#444" stroke-width="0.76"/>
<g transform="rotate(40.0 219.2 158.4)"><ellipse cx="219.2" cy="158.4" rx="2.0" ry="3.2" fill="#fff" stroke="#303030" stroke-width="1.17"/><ellipse cx="220.3" cy="158.4" rx="1.6" ry="2.7" fill="none" stroke="#303030" stroke-width="0.76"/><path d="M217.9 159.0h3.5" stroke="#303030" stroke-width="1.08"/></g>
<path d="M200.2 192.6l2.2-0.3l0.5 3.2l1 0.4l0.4 3l-3.4 0.6l-0.6-3l0.7-0.6z" fill="#fff" stroke="#202020" stroke-width="0.99"/><path d="M198.2 200.2l5.4 2.6l3-1.2l-0.2 1.6l-2.8 1.2l-5.4-2.6z" fill="#fff" stroke="#202020" stroke-width="0.90"/>
<path d="M199.6 186.2L201.0 192.4" stroke="#444" stroke-width="0.76"/>
<path d="M226.6 201.8L270 176.8M227.4 203.6L272 178.2M228.2 205.4L273 180.2" stroke="#3c3c3c" stroke-width="0.76"/>
<path d="M206 208.4l10.5-6.8l5.2-0.8l3 -1.6l2.4 3.6l-3.2 2.2l-1.2 3.2l-9.8 6.2l-5.6-1z" fill="#fff" stroke="#202020" stroke-width="1.26"/>
<path d="M208 209.5l7-4.4l2 3.6l-7 4.4z" fill="#bbb" stroke="#202020" stroke-width="0.81"/>
<path d="M273.2 168.6L291.8 158.4 Q299.5 156.2 302.8 162.4 Q305.8 169.6 301.6 175.4 L281 187.6" fill="#fff" stroke="#303030" stroke-width="0.90"/>
<ellipse cx="277.0" cy="178.0" rx="6.6" ry="10.6" transform="rotate(-28.0 277.0 178.0)" fill="#fff" stroke="#303030" stroke-width="0.90"/>
<ellipse cx="275.3" cy="178.9" rx="5.4" ry="9.2" transform="rotate(-28.0 275.3 178.9)" fill="#fff" stroke="#3c3c3c" stroke-width="0.76"/>
<path d="M262.8 185.2l6.2-3.4l1.2 2.2l-6.2 3.4z" fill="#fff" stroke="#303030" stroke-width="0.81"/>
<path d="M286 166.5l6-3.2M290.5 176.2l0.6 2.2" stroke="#3c3c3c" stroke-width="0.99"/>
<path d="M303.2 162.4l3.2-1.8l1 1.8l-3.2 1.8" fill="#fff" stroke="#303030" stroke-width="0.81"/>
<path d="M307.0 161.8L326.0 149.0" stroke="#444" stroke-width="0.76"/>
<circle cx="328.2" cy="147.2" r="3.3" fill="#fff" stroke="#303030" stroke-width="0.99"/>
<path d="M326.4 144.6 A3.3 3.3 0 0 0 326.4 149.8 L327.9 149.0 A2.0 2.0 0 0 1 327.9 145.4 Z" fill="#444" stroke="none"/>
<circle cx="328.7" cy="147.2" r="1.5" fill="#fff" stroke="#3c3c3c" stroke-width="0.76"/>
<path d="M331.0 145.5L352.0 134.0" stroke="#444" stroke-width="0.76"/>
<path d="M353.5 133.2 C354.3 132.0 357.1 128.7 358.5 126.0 C359.9 123.3 360.7 119.9 362.0 117.0 C363.3 114.1 364.7 110.6 366.5 108.5 C368.3 106.4 370.6 105.3 373.0 104.5 C375.4 103.7 379.7 103.9 381.0 103.8" stroke="#333333" stroke-width="7.0" stroke-linecap="butt" fill="none"/><path d="M353.5 133.2 C354.3 132.0 357.1 128.7 358.5 126.0 C359.9 123.3 360.7 119.9 362.0 117.0 C363.3 114.1 364.7 110.6 366.5 108.5 C368.3 106.4 370.6 105.3 373.0 104.5 C375.4 103.7 379.7 103.9 381.0 103.8" stroke="#fff" stroke-width="5.5" stroke-linecap="butt" fill="none"/><path d="M356.1 135.0L350.9 131.4" stroke="#333333" stroke-width="0.76"/><path d="M380.7 100.7L381.3 106.9" stroke="#333333" stroke-width="0.76"/>
<path d="M382.0 103.5L401.5 102.9" stroke="#444" stroke-width="0.76"/>
<path d="M408.5 102.4L424.0 100.9" stroke="#444" stroke-width="0.76"/>
<circle cx="404.9" cy="102.7" r="3.5" fill="#fff" stroke="#303030" stroke-width="0.99"/>
<path d="M403.0 99.9 A3.5 3.5 0 0 0 403.0 105.5 L404.5 104.6 A2.1 2.1 0 0 1 404.5 100.8 Z" fill="#444" stroke="none"/>
<circle cx="405.4" cy="102.7" r="1.6" fill="#fff" stroke="#3c3c3c" stroke-width="0.76"/>
<path d="M449 87.9 Q454 87.6 456.6 91.6 Q458.8 95 458.4 98 Q457.6 104.5 452 108.6" fill="#fff" stroke="#303030" stroke-width="0.90"/>
<ellipse cx="446.0" cy="99.0" rx="5.7" ry="11.3" transform="rotate(-4.0 446.0 99.0)" fill="#fff" stroke="#303030" stroke-width="0.90"/>
<ellipse cx="444.8" cy="99.1" rx="5.5" ry="11.0" transform="rotate(-4.0 444.8 99.1)" fill="#fff" stroke="#3c3c3c" stroke-width="0.76"/>
<path d="M437 90.1 L443.6 88.4 Q448 99 444.4 109.9 L437.6 109.3" fill="#fff" stroke="#303030" stroke-width="0.81"/>
<ellipse cx="436.8" cy="99.7" rx="6.8" ry="9.6" transform="rotate(-3.0 436.8 99.7)" fill="#fff" stroke="#303030" stroke-width="0.90"/>
<ellipse cx="435.2" cy="100.2" rx="2.6" ry="3.2" fill="#fff" stroke="#3c3c3c" stroke-width="0.81"/>
<path d="M424.2 100.2l2.6-1.4l7.6-0.6l0.4 3l-7.6 0.8l-2.6-0.8z" fill="#fff" stroke="#202020" stroke-width="0.99"/><path d="M424.4 99.6l2.4-0.6l0.4 2.8l-2.4 0.2z" fill="#303030" stroke="none"/>
<path d="M458.4 95.9l4.6-0.5q1.4 1.3 0.4 3l-4.8 0.5" fill="#fff" stroke="#303030" stroke-width="0.81"/>
<path d="M463.5 96.8L538.0 89.4" stroke="#444" stroke-width="0.76" stroke-dasharray="32 5 14 5"/>
<circle cx="542.2" cy="88.6" r="3.4" fill="#fff" stroke="#303030" stroke-width="0.99"/>
<path d="M540.3 85.9 A3.4 3.4 0 0 0 540.3 91.3 L541.9 90.5 A2.0 2.0 0 0 1 541.9 86.7 Z" fill="#444" stroke="none"/>
<circle cx="542.7" cy="88.6" r="1.5" fill="#fff" stroke="#3c3c3c" stroke-width="0.76"/>
<path d="M546.0 88.0L563.0 86.4" stroke="#444" stroke-width="0.76"/>
<path d="M564.5 86.2 C565.8 85.7 569.5 83.5 572.0 83.0 C574.5 82.5 577.5 82.6 579.5 83.5 C581.5 84.4 582.9 86.2 584.0 88.5 C585.1 90.8 585.3 89.6 586.0 97.0 C586.7 104.4 588.4 122.5 588.3 133.0 C588.2 143.5 585.9 152.2 585.2 160.0 C584.5 167.8 584.2 172.5 584.3 180.0 C584.4 187.5 584.8 197.5 585.6 205.0 C586.4 212.5 588.6 218.9 589.3 225.0 C590.0 231.1 589.5 238.8 589.6 241.6" stroke="#333333" stroke-width="6.8" stroke-linecap="butt" fill="none"/><path d="M564.5 86.2 C565.8 85.7 569.5 83.5 572.0 83.0 C574.5 82.5 577.5 82.6 579.5 83.5 C581.5 84.4 582.9 86.2 584.0 88.5 C585.1 90.8 585.3 89.6 586.0 97.0 C586.7 104.4 588.4 122.5 588.3 133.0 C588.2 143.5 585.9 152.2 585.2 160.0 C584.5 167.8 584.2 172.5 584.3 180.0 C584.4 187.5 584.8 197.5 585.6 205.0 C586.4 212.5 588.6 218.9 589.3 225.0 C590.0 231.1 589.5 238.8 589.6 241.6" stroke="#fff" stroke-width="5.3" stroke-linecap="butt" fill="none"/><path d="M565.7 89.0L563.3 83.4" stroke="#333333" stroke-width="0.76"/><path d="M592.6 241.5L586.6 241.7" stroke="#333333" stroke-width="0.76"/>
<ellipse cx="564.7" cy="86.2" rx="1.6" ry="3.2" transform="rotate(-10.0 564.7 86.2)" fill="#fff" stroke="#303030" stroke-width="0.81"/>
<path d="M583.5 129.5l3.5-1.5l6.5 8.5l-1.5 3.5l-6.5-2.5z" fill="#fff" stroke="#202020" stroke-width="1.08"/>
<path d="M593.0 135.5L606.5 128.3" stroke="#444" stroke-width="0.76"/>
<ellipse cx="609.8" cy="126.6" rx="2.2" ry="3.6" transform="rotate(-25.0 609.8 126.6)" fill="#fff" stroke="#303030" stroke-width="0.90"/>
<ellipse cx="609.8" cy="126.6" rx="0.9" ry="1.6" transform="rotate(-25.0 609.8 126.6)" stroke="#3c3c3c" stroke-width="0.66"/>
<path d="M613.0 125.0L624.0 119.3" stroke="#444" stroke-width="0.76"/>
<path d="M624 117.2l8.2-4.2l1.2 2.2l-8.2 4.2z" fill="#fff" stroke="#303030" stroke-width="0.81"/><path d="M632 111.5l3 -1.4l1.8 3.8l-3 1.4z" fill="#fff" stroke="#303030" stroke-width="0.81"/>
<path d="M589.6 242.0L589.6 254.0" stroke="#444" stroke-width="0.76"/>
<circle cx="589.6" cy="257.8" r="3.3" fill="#fff" stroke="#303030" stroke-width="0.99"/>
<path d="M587.8 255.2 A3.3 3.3 0 0 0 587.8 260.4 L589.3 259.6 A2.0 2.0 0 0 1 589.3 256.0 Z" fill="#444" stroke="none"/>
<circle cx="590.1" cy="257.8" r="1.5" fill="#fff" stroke="#3c3c3c" stroke-width="0.76"/>
<path d="M589.6 261.5L589.6 279.0" stroke="#444" stroke-width="0.76"/>
<path d="M588.4 277.5h2.6v5l4.5 2.2l-1 2l-3.5-1.6v5h-2.6z" fill="#fff" stroke="#202020" stroke-width="0.90"/>
<path d="M589.6 291.0L589.6 299.0" stroke="#444" stroke-width="0.76"/>
<circle cx="589.6" cy="302.6" r="3.3" fill="#fff" stroke="#303030" stroke-width="0.99"/>
<path d="M587.8 300.0 A3.3 3.3 0 0 0 587.8 305.2 L589.3 304.4 A2.0 2.0 0 0 1 589.3 300.8 Z" fill="#444" stroke="none"/>
<circle cx="590.1" cy="302.6" r="1.5" fill="#fff" stroke="#3c3c3c" stroke-width="0.76"/>
<path d="M589.6 306.5L589.6 314.0" stroke="#444" stroke-width="0.76"/>
<path d="M595.5 287.5L610.0 296.5" stroke="#444" stroke-width="0.76"/>
<circle cx="613.4" cy="298.4" r="3.4" fill="#fff" stroke="#303030" stroke-width="0.99"/>
<path d="M611.5 295.7 A3.4 3.4 0 0 0 611.5 301.1 L613.1 300.3 A2.0 2.0 0 0 1 613.1 296.5 Z" fill="#444" stroke="none"/>
<circle cx="613.9" cy="298.4" r="1.5" fill="#fff" stroke="#3c3c3c" stroke-width="0.76"/>
<path d="M616.5 300.5L638.0 312.5" stroke="#444" stroke-width="0.76"/>
<path d="M638.6 313.0 L661.6 325.6" stroke="#333333" stroke-width="6.6" stroke-linecap="butt" fill="none"/><path d="M638.6 313.0 L661.6 325.6" stroke="#fff" stroke-width="5.1" stroke-linecap="butt" fill="none"/><path d="M637.2 315.6L640.0 310.4" stroke="#333333" stroke-width="0.76"/><path d="M663.0 323.0L660.2 328.2" stroke="#333333" stroke-width="0.76"/>
<ellipse cx="661.3" cy="325.4" rx="1.6" ry="3.1" transform="rotate(-30.0 661.3 325.4)" fill="#fff" stroke="#303030" stroke-width="0.76"/>
<path d="M664.0 327.5L681.5 337.2" stroke="#444" stroke-width="0.76"/>
<circle cx="684.8" cy="339.0" r="3.4" fill="#fff" stroke="#303030" stroke-width="0.99"/>
<path d="M682.9 336.3 A3.4 3.4 0 0 0 682.9 341.7 L684.5 340.9 A2.0 2.0 0 0 1 684.5 337.1 Z" fill="#444" stroke="none"/>
<circle cx="685.3" cy="339.0" r="1.5" fill="#fff" stroke="#3c3c3c" stroke-width="0.76"/>
<path d="M434.5 222.6 C435.8 223.2 439.6 224.9 442.0 226.5 C444.4 228.1 446.9 229.6 449.0 232.0 C451.1 234.4 453.1 237.2 454.5 241.0 C455.9 244.8 456.7 249.3 457.5 255.0 C458.3 260.7 458.9 267.5 459.5 275.0 C460.1 282.5 460.6 293.7 461.3 300.0 C462.0 306.3 462.4 309.2 463.8 313.0 C465.2 316.8 467.0 319.8 470.0 322.5 C473.0 325.2 473.7 324.7 482.0 329.5 C490.3 334.3 507.0 344.0 520.0 351.5 C533.0 359.0 551.2 369.5 560.0 374.5 C568.8 379.5 569.6 380.0 573.0 381.5 C576.4 383.0 578.4 383.7 580.5 383.3 C582.6 382.9 584.3 381.6 585.5 379.0 C586.7 376.4 587.2 373.7 587.8 368.0 C588.4 362.3 588.7 353.6 589.0 345.0 C589.3 336.4 589.7 321.2 589.8 316.5" stroke="#333333" stroke-width="7.2" stroke-linecap="butt" fill="none"/><path d="M434.5 222.6 C435.8 223.2 439.6 224.9 442.0 226.5 C444.4 228.1 446.9 229.6 449.0 232.0 C451.1 234.4 453.1 237.2 454.5 241.0 C455.9 244.8 456.7 249.3 457.5 255.0 C458.3 260.7 458.9 267.5 459.5 275.0 C460.1 282.5 460.6 293.7 461.3 300.0 C462.0 306.3 462.4 309.2 463.8 313.0 C465.2 316.8 467.0 319.8 470.0 322.5 C473.0 325.2 473.7 324.7 482.0 329.5 C490.3 334.3 507.0 344.0 520.0 351.5 C533.0 359.0 551.2 369.5 560.0 374.5 C568.8 379.5 569.6 380.0 573.0 381.5 C576.4 383.0 578.4 383.7 580.5 383.3 C582.6 382.9 584.3 381.6 585.5 379.0 C586.7 376.4 587.2 373.7 587.8 368.0 C588.4 362.3 588.7 353.6 589.0 345.0 C589.3 336.4 589.7 321.2 589.8 316.5" stroke="#fff" stroke-width="5.7" stroke-linecap="butt" fill="none"/><path d="M433.0 225.5L436.0 219.7" stroke="#333333" stroke-width="0.76"/><path d="M586.6 316.4L593.0 316.6" stroke="#333333" stroke-width="0.76"/>
<ellipse cx="589.8" cy="316.8" rx="3.2" ry="1.4" fill="#fff" stroke="#303030" stroke-width="0.76"/>
<path d="M411.5 209.3L433.8 222.0" stroke="#444" stroke-width="0.76"/>
<circle cx="408.2" cy="207.4" r="3.4" fill="#fff" stroke="#303030" stroke-width="0.99"/>
<path d="M406.3 204.7 A3.4 3.4 0 0 0 406.3 210.1 L407.9 209.3 A2.0 2.0 0 0 1 407.9 205.5 Z" fill="#444" stroke="none"/>
<circle cx="408.7" cy="207.4" r="1.5" fill="#fff" stroke="#3c3c3c" stroke-width="0.76"/>
<path d="M421.3 238.6 L421.8 245 Q424 248.2 427.6 248.9 L427.8 252 L433 252 L433.2 248.9 Q437 248 439.2 244.6 L439.2 238" fill="#fff" stroke="#202020" stroke-width="1.08"/>
<ellipse cx="430.2" cy="238.2" rx="9.0" ry="5.0" transform="rotate(-8.0 430.2 238.2)" fill="#fff" stroke="#202020" stroke-width="1.26"/>
<path d="M424.2 240.2l9-4.6l3.2 1.6l-9 4.6z" fill="#303030" stroke="#202020" stroke-width="0.76"/><path d="M428.5 239.6l3.4-1.7" stroke="#fff" stroke-width="0.90"/>
<path d="M422.8 242.2v4.2M425.3 243.6v4.4M428 244.2v4.6M430.8 244.3v4.6M433.5 243.9v4.6M436.2 243v4.2M438.2 241.5v3.6" stroke="#202020" stroke-width="0.81"/>
<path d="M430.1 252.0L430.1 257.0" stroke="#444" stroke-width="0.76"/>
<path d="M426.8 257.5h6.6v7.5h-1.2v7h-4.2v-7h-1.2z" fill="#fff" stroke="#202020" stroke-width="0.99"/><path d="M428.2 266h3.8M428.2 268h3.8M428.2 270h3.8M429 258v7M431.4 258v7" stroke="#303030" stroke-width="0.66"/>
<path d="M430.1 272.0L430.1 279.0" stroke="#444" stroke-width="0.76"/>
<ellipse cx="429.6" cy="282.3" rx="5.4" ry="3.0" fill="#fff" stroke="#202020" stroke-width="0.99"/>
<path d="M424.2 282.5v2.6q2 2.8 5.4 2.8q3.4 0 5.4-2.8v-2.6" stroke="#202020" stroke-width="0.90"/><path d="M434 282.5l4-1.8l1.6 1.6l-1 2.6l-3.6 0.6" fill="#fff" stroke="#202020" stroke-width="0.90"/>
<path d="M430.1 288.0L430.1 294.5" stroke="#444" stroke-width="0.76"/>
<path d="M428.3 295.4 C428.3 298.2 428.0 306.9 428.4 312.0 C428.8 317.1 429.2 321.0 430.5 326.0 C431.8 331.0 433.9 336.3 436.0 342.0 C438.1 347.7 440.8 354.0 443.0 360.0 C445.2 366.0 447.9 372.2 449.5 378.0 C451.1 383.8 451.8 389.3 452.3 395.0 C452.8 400.7 452.6 409.5 452.6 412.4" stroke="#333333" stroke-width="8.2" stroke-linecap="butt" fill="none"/><path d="M428.3 295.4 C428.3 298.2 428.0 306.9 428.4 312.0 C428.8 317.1 429.2 321.0 430.5 326.0 C431.8 331.0 433.9 336.3 436.0 342.0 C438.1 347.7 440.8 354.0 443.0 360.0 C445.2 366.0 447.9 372.2 449.5 378.0 C451.1 383.8 451.8 389.3 452.3 395.0 C452.8 400.7 452.6 409.5 452.6 412.4" stroke="#fff" stroke-width="6.7" stroke-linecap="butt" fill="none"/><path d="M424.6 295.4L432.0 295.4" stroke="#333333" stroke-width="0.76"/><path d="M456.3 412.3L448.9 412.5" stroke="#333333" stroke-width="0.76"/>
<ellipse cx="428.3" cy="295.8" rx="3.6" ry="1.5" fill="#fff" stroke="#303030" stroke-width="0.76"/>
<path d="M453.0 413.0L453.0 508.0" stroke="#444" stroke-width="0.76"/>
<ellipse cx="452.6" cy="421.6" rx="4.6" ry="2.6" fill="#fff" stroke="#202020" stroke-width="0.99"/>
<path d="M448 421.8v3q1.6 2.2 4.6 2.2q3 0 4.6-2.2v-3" fill="#fff" stroke="#202020" stroke-width="0.90"/>
<ellipse cx="452.6" cy="421.6" rx="4.6" ry="2.6" fill="#fff" stroke="#202020" stroke-width="0.99"/>
<ellipse cx="452.8" cy="421.7" rx="3.0" ry="1.5" fill="#fff" stroke="#303030" stroke-width="0.81"/>
<path d="M448.2 423.4q0.6 2.6 3.2 3.4" stroke="#202020" stroke-width="1.44"/>
<path d="M451.2 432.4h2.8v9.6h3.4v6.2l-2 2.4h-5.4l-2-2.4v-6.2h3.2z" fill="#fff" stroke="#202020" stroke-width="0.99"/><path d="M448 447.5h9.4" stroke="#303030" stroke-width="0.76"/>
<ellipse cx="452.8" cy="461.4" rx="4.5" ry="2.5" fill="#fff" stroke="#303030" stroke-width="0.90"/>
<path d="M445.2 474.2v10l2.6 2v3.6q5.2 2 10.6 0v-3.6l2.6-2v-10" fill="#fff" stroke="#202020" stroke-width="0.99"/>
<ellipse cx="453.1" cy="474.2" rx="7.9" ry="3.6" fill="#fff" stroke="#202020" stroke-width="0.99"/>
<ellipse cx="453.1" cy="474.4" rx="4.8" ry="2.0" stroke="#303030" stroke-width="0.81"/>
<path d="M448 486.6h10.4M448 488.2h10.4M448.4 489.8h9.6" stroke="#202020" stroke-width="1.35"/><path d="M449.5 477.5v7M456.8 477.5v7" stroke="#3c3c3c" stroke-width="0.66"/>
<ellipse cx="453.1" cy="499.2" rx="6.2" ry="3.4" fill="#fff" stroke="#303030" stroke-width="0.81"/>
<ellipse cx="453.1" cy="499.2" rx="4.3" ry="2.1" stroke="#3c3c3c" stroke-width="0.76"/>
<path d="M453 508L432.8 520.3" stroke="#444" stroke-width="0.76"/>
<path d="M430 522L366 561.5" stroke="#444" stroke-width="0.76" stroke-dasharray="30 5 10 5"/>
<path d="M335.6 258.6 Q334.5 250 341 246.8 L343 245.8 Q351 247 354.8 251.6 Q356.2 255 355.8 258.6 Q346 263.5 335.6 258.6Z" fill="#fff" stroke="#303030" stroke-width="0.90"/>
<path d="M343 245.8 Q341 249.5 344.5 251.5 Q350 250.5 354.8 251.6" stroke="#3c3c3c" stroke-width="0.76"/>
<path d="M337 259.5v2.4q8.5 3.4 17.6 0v-2.4M337.2 260.6q8.5 3.2 17.2 0M337.2 261.6q8.5 3.2 17.2 0" stroke="#303030" stroke-width="0.81"/>
<path d="M345.5 263.5L345.5 296.5" stroke="#444" stroke-width="0.76"/>
<path d="M345.5 306.5L345.5 335.0" stroke="#444" stroke-width="0.76"/>
<ellipse cx="345.4" cy="301.5" rx="9.2" ry="5.0" stroke="#3c3c3c" stroke-width="0.76"/>
<ellipse cx="345.4" cy="301.5" rx="7.8" ry="3.9" stroke="#3c3c3c" stroke-width="0.76"/>
<ellipse cx="345.7" cy="340.3" rx="8.2" ry="3.8" fill="#fff" stroke="#303030" stroke-width="0.90"/>
<path d="M343.6 340l0.6-5.2l3.8-0.3l-0.8 5.4" fill="#fff" stroke="#303030" stroke-width="0.81"/>
<path d="M343.4 344v44.5l2.2 1.4l2.2-1.4v-44.5" fill="#fff" stroke="#303030" stroke-width="0.81"/><path d="M345.6 345v44" stroke="#444" stroke-width="0.66"/>
<path d="M345.7 390.0L345.7 415.5" stroke="#444" stroke-width="0.76"/>
<path d="M339.3 419.7v54q2 2.8 6.4 2.8q4.6 0 6.6-2.8v-54" fill="#fff" stroke="#303030" stroke-width="0.81"/>
<ellipse cx="345.8" cy="419.7" rx="6.5" ry="3.8" fill="#fff" stroke="#303030" stroke-width="0.81"/>
<ellipse cx="345.8" cy="419.9" rx="4.6" ry="2.5" stroke="#3c3c3c" stroke-width="0.76"/>
<path d="M345.7 476.5L345.7 510.0" stroke="#444" stroke-width="0.76"/>
<path d="M251.3 399.6h6.4v3.4h-1.4v3.2h-3.6v-3.2h-1.4z" fill="#fff" stroke="#202020" stroke-width="0.99"/>
<path d="M254.5 406.5L254.5 441.0" stroke="#444" stroke-width="0.76"/>
<path d="M226.4 460.7 C227.2 459.3 227.6 455.8 231.4 452.4 C235.2 449.0 245.5 442.5 249.5 440.1 C253.5 437.7 251.2 438.2 255.3 438.1 C259.4 437.9 268.7 437.8 274.3 439.2 C279.9 440.6 285.5 443.7 289.1 446.7 C292.7 449.7 294.6 454.9 295.7 457.4 C296.8 459.9 296.7 460.0 295.7 461.5 C294.7 463.0 294.4 463.6 289.9 466.5 C285.4 469.4 274.3 476.9 268.5 478.8 C262.7 480.7 260.1 478.8 255.3 478.0 C250.5 477.2 244.4 476.5 239.6 473.9 C234.8 471.3 228.6 464.5 226.4 462.3 C224.2 460.1 226.4 461.0 226.4 460.7 Z" fill="#fff" stroke="#303030" stroke-width="0.85"/>
<path d="M226.4 458.5 C227.2 457.1 227.6 453.6 231.4 450.2 C235.2 446.8 245.5 440.3 249.5 437.9 C253.5 435.5 251.2 436.0 255.3 435.9 C259.4 435.8 268.7 435.6 274.3 437.0 C279.9 438.4 285.5 441.5 289.1 444.5 C292.7 447.5 294.6 452.7 295.7 455.2 C296.8 457.7 296.7 457.8 295.7 459.3 C294.7 460.8 294.4 461.4 289.9 464.3 C285.4 467.2 274.3 474.7 268.5 476.6 C262.7 478.5 260.1 476.6 255.3 475.8 C250.5 475.0 244.4 474.3 239.6 471.7 C234.8 469.1 228.6 462.3 226.4 460.1 C224.2 457.9 226.4 458.8 226.4 458.5 Z" fill="#fff" stroke="#303030" stroke-width="0.85"/>
<circle cx="234.2" cy="451.0" r="3.1" fill="#fff" stroke="#303030" stroke-width="0.81"/><circle cx="234.2" cy="449.6" r="1.9" fill="#fff" stroke="#303030" stroke-width="0.76"/>
<circle cx="280.9" cy="442.8" r="3.1" fill="#fff" stroke="#303030" stroke-width="0.81"/><circle cx="280.9" cy="441.4" r="1.9" fill="#fff" stroke="#303030" stroke-width="0.76"/>
<circle cx="287.5" cy="458.1" r="3.1" fill="#fff" stroke="#303030" stroke-width="0.81"/><circle cx="287.5" cy="456.7" r="1.9" fill="#fff" stroke="#303030" stroke-width="0.76"/>
<circle cx="267.3" cy="470.0" r="3.1" fill="#fff" stroke="#303030" stroke-width="0.81"/><circle cx="267.3" cy="468.6" r="1.9" fill="#fff" stroke="#303030" stroke-width="0.76"/>
<circle cx="240.1" cy="466.7" r="3.1" fill="#fff" stroke="#303030" stroke-width="0.81"/><circle cx="240.1" cy="465.3" r="1.9" fill="#fff" stroke="#303030" stroke-width="0.76"/>
<ellipse cx="254.6" cy="441.4" rx="1.3" ry="0.8" stroke="#3c3c3c" stroke-width="0.66"/>
<path d="M253.6 477.5v4M255.6 477.5v4" stroke="#444" stroke-width="0.76"/>
<path d="M228.4 497.3 C229.2 496.5 228.7 495.1 233.0 492.3 C237.3 489.6 249.0 482.9 254.5 480.8 C260.0 478.7 261.6 479.3 266.0 479.9 C270.4 480.4 276.5 481.9 280.9 484.1 C285.3 486.3 290.1 490.5 292.4 493.1 C294.6 495.7 294.4 497.9 294.4 499.7 C294.4 501.5 296.6 500.9 292.4 503.9 C288.2 506.9 275.6 515.6 269.3 517.9 C263.0 520.2 259.7 518.9 254.5 517.9 C249.3 516.9 242.3 514.4 238.0 512.1 C233.7 509.8 230.5 506.4 228.9 503.9 C227.3 501.4 228.5 498.4 228.4 497.3 Z" fill="#fff" stroke="#303030" stroke-width="0.85"/>
<path d="M228.4 498.7 C229.2 497.9 228.7 496.4 233.0 493.7 C237.3 490.9 249.0 484.3 254.5 482.2 C260.0 480.1 261.6 480.7 266.0 481.3 C270.4 481.8 276.5 483.3 280.9 485.5 C285.3 487.7 290.1 491.9 292.4 494.5 C294.6 497.1 294.4 499.3 294.4 501.1 C294.4 502.9 296.6 502.3 292.4 505.3 C288.2 508.3 275.6 517.0 269.3 519.3 C263.0 521.6 259.7 520.3 254.5 519.3 C249.3 518.3 242.3 515.8 238.0 513.5 C233.7 511.2 230.5 507.8 228.9 505.3 C227.3 502.8 228.5 499.8 228.4 498.7 Z" stroke="#3c3c3c" stroke-width="0.66"/>
<path d="M236.6 498.1 C237.1 497.4 236.6 496.1 239.6 494.0 C242.6 491.9 250.1 487.2 254.5 485.7 C258.9 484.2 262.1 484.5 266.0 484.9 C269.9 485.3 274.3 486.4 277.6 488.2 C280.9 490.0 284.3 493.7 285.8 495.6 C287.3 497.5 289.2 497.2 286.6 499.7 C284.0 502.2 275.3 508.6 270.1 510.5 C264.9 512.4 259.8 511.9 255.3 511.3 C250.8 510.8 246.0 509.0 242.9 507.2 C239.8 505.4 237.7 502.1 236.6 500.6 C235.5 499.1 236.6 498.5 236.6 498.1 Z" fill="#fff" stroke="#303030" stroke-width="0.85"/>
<path d="M254.5 485.7V495.6L271 505.5L285.5 497" stroke="#3c3c3c" stroke-width="0.76"/>
<circle cx="234.2" cy="494.3" r="0.9" stroke="#303030" stroke-width="0.76"/>
<circle cx="280.9" cy="486.5" r="0.9" stroke="#303030" stroke-width="0.76"/>
<circle cx="288.0" cy="502.2" r="0.9" stroke="#303030" stroke-width="0.76"/>
<circle cx="266.8" cy="513.4" r="0.9" stroke="#303030" stroke-width="0.76"/>
<circle cx="240.1" cy="510.1" r="0.9" stroke="#303030" stroke-width="0.76"/>
<path d="M391.7 500 L533.3 579.3 L556.7 616.7 L421.7 697.3 L400 686.7 L363.3 707.3 L263.3 651.7 L263.3 604 L261.7 598.3 L295 578.3 L280 570.7 L279.3 565 Z" fill="#fff" stroke="#303030" stroke-width="0.85"/>
<path d="M533.3 579.3 L534.3 582.6 L418.3 649.4 L396.7 639.4 L360 659.4 L316 636.4 Q310 630.3 301 627.3 L263.3 604.5" stroke="#303030" stroke-width="0.81"/>
<path d="M532 581 L418.3 647.2 L396.7 637.2 L360 657.2 L317 634.4 Q311.5 628.4 302.5 625.4 L266 603.4" stroke="#3c3c3c" stroke-width="0.66"/>
<path d="M554.8 615.5 L421.7 695 L400 684.4 L363.3 705 L265.5 650.5" stroke="#3c3c3c" stroke-width="0.66"/>
<path d="M265.8 605.5V650.5M280 571v-5" stroke="#303030" stroke-width="0.81"/>
<path d="M534 583 L554.5 616" stroke="#3c3c3c" stroke-width="0.66"/>
<ellipse cx="303.6" cy="633.4" rx="3.6" ry="2.3" transform="rotate(-15.0 303.6 633.4)" fill="#fff" stroke="#303030" stroke-width="0.81"/>
<path d="M299.3 634.5 v3 M300 626.5 v6" stroke="#303030" stroke-width="0.76"/>
<path d="M247 631l4-1.2l1 3l-1.6 0.6l1 4.4l-1.4 0.4l-1.2-4.4l-1.2 0.4z" fill="#fff" stroke="#202020" stroke-width="0.90"/>
<path d="M249.5 639.5 L250.5 645 L299 627" stroke="#444" stroke-width="0.76" stroke-dasharray="16 4 16 4"/>
<path d="M333.3 512.3V541q3 5.8 11.2 5.8q8.2 0 11-5.8V512.3" fill="#fff" stroke="#303030" stroke-width="0.85"/>
<ellipse cx="344.4" cy="512.2" rx="11.1" ry="6.5" fill="#fff" stroke="#303030" stroke-width="0.85"/>
<ellipse cx="344.4" cy="512.6" rx="8.4" ry="4.6" stroke="#3c3c3c" stroke-width="0.76"/>
<ellipse cx="344.4" cy="513.6" rx="7.0" ry="3.6" stroke="#444" stroke-width="0.66"/>
<path d="M319.2 545.1v8.5q2.6 5.2 8.7 5.2q6.1 0 8.7 -5.2v-8.5" fill="#fff" stroke="#303030" stroke-width="0.81"/>
<ellipse cx="327.9" cy="545.1" rx="8.7" ry="5.0" fill="#fff" stroke="#303030" stroke-width="0.85"/>
<ellipse cx="327.9" cy="545.5" rx="6.3" ry="3.4" stroke="#3c3c3c" stroke-width="0.76"/>
<path d="M357.1 563.3v8.5q2.6 5.2 8.7 5.2q6.1 0 8.7 -5.2v-8.5" fill="#fff" stroke="#303030" stroke-width="0.81"/>
<ellipse cx="365.8" cy="563.3" rx="8.7" ry="5.0" fill="#fff" stroke="#303030" stroke-width="0.85"/>
<ellipse cx="365.8" cy="563.7" rx="6.3" ry="3.4" stroke="#3c3c3c" stroke-width="0.76"/>
<path d="M394.4 520.6v3.0q3.1 6.1 10.2 6.1q7.1 0 10.2 -6.1v-3.0" fill="#fff" stroke="#303030" stroke-width="0.81"/>
<ellipse cx="404.6" cy="520.6" rx="10.2" ry="5.8" fill="#fff" stroke="#303030" stroke-width="0.85"/>
<ellipse cx="404.6" cy="521.0" rx="7.3" ry="3.9" stroke="#3c3c3c" stroke-width="0.76"/>
<path d="M421.3 601.3v3.5q3.3 6.9 11.0 6.9q7.7 0 11.0 -6.9v-3.5" fill="#fff" stroke="#303030" stroke-width="0.81"/>
<ellipse cx="432.3" cy="601.3" rx="11.0" ry="6.6" fill="#fff" stroke="#303030" stroke-width="0.85"/>
<ellipse cx="432.3" cy="601.7" rx="7.9" ry="4.5" stroke="#3c3c3c" stroke-width="0.76"/>
<path d="M462.3 594.2v2.8q2.1 4.5 7.0 4.5q4.9 0 7.0 -4.5v-2.8" fill="#fff" stroke="#303030" stroke-width="0.81"/>
<ellipse cx="469.3" cy="594.2" rx="7.0" ry="4.3" fill="#fff" stroke="#303030" stroke-width="0.85"/>
<ellipse cx="469.3" cy="594.6" rx="5.0" ry="2.9" stroke="#3c3c3c" stroke-width="0.76"/>
<path d="M323.7 605.0 C324.2 603.7 323.0 600.4 326.7 597.0 C330.4 593.6 341.2 587.0 345.7 584.5 C350.2 582.0 349.2 582.2 353.7 582.0 C358.2 581.8 367.0 581.6 372.7 583.0 C378.4 584.4 384.4 587.5 387.7 590.5 C390.9 593.5 391.4 598.6 392.2 601.0 C392.9 603.4 393.3 603.3 392.2 605.0 C391.1 606.7 390.3 608.0 385.7 611.0 C381.1 614.0 370.2 621.1 364.7 623.0 C359.2 624.9 357.2 623.3 352.7 622.5 C348.2 621.7 342.5 620.9 337.7 618.0 C332.9 615.1 326.0 607.2 323.7 605.0 Z" fill="#fff" stroke="#303030" stroke-width="0.85"/>
<path d="M323.7 603.2 C324.2 601.9 323.0 598.6 326.7 595.2 C330.4 591.8 341.2 585.2 345.7 582.7 C350.2 580.2 349.2 580.5 353.7 580.2 C358.2 580.0 367.0 579.8 372.7 581.2 C378.4 582.6 384.4 585.7 387.7 588.7 C390.9 591.7 391.4 596.8 392.2 599.2 C392.9 601.6 393.3 601.5 392.2 603.2 C391.1 604.9 390.3 606.2 385.7 609.2 C381.1 612.2 370.2 619.3 364.7 621.2 C359.2 623.1 357.2 621.5 352.7 620.7 C348.2 619.9 342.5 619.1 337.7 616.2 C332.9 613.3 326.0 605.4 323.7 603.2 Z" fill="#fff" stroke="#303030" stroke-width="0.85"/>
<circle cx="330.7" cy="595.4" r="2.9" fill="#fff" stroke="#303030" stroke-width="0.81"/><circle cx="330.7" cy="594.2" r="1.7" fill="#fff" stroke="#303030" stroke-width="0.76"/>
<circle cx="351.2" cy="584.9" r="2.9" fill="#fff" stroke="#303030" stroke-width="0.81"/><circle cx="351.2" cy="583.7" r="1.7" fill="#fff" stroke="#303030" stroke-width="0.76"/>
<circle cx="377.7" cy="587.4" r="2.9" fill="#fff" stroke="#303030" stroke-width="0.81"/><circle cx="377.7" cy="586.2" r="1.7" fill="#fff" stroke="#303030" stroke-width="0.76"/>
<circle cx="383.7" cy="602.4" r="2.9" fill="#fff" stroke="#303030" stroke-width="0.81"/><circle cx="383.7" cy="601.2" r="1.7" fill="#fff" stroke="#303030" stroke-width="0.76"/>
<circle cx="363.2" cy="614.4" r="2.9" fill="#fff" stroke="#303030" stroke-width="0.81"/><circle cx="363.2" cy="613.2" r="1.7" fill="#fff" stroke="#303030" stroke-width="0.76"/>
<circle cx="336.2" cy="610.9" r="2.9" fill="#fff" stroke="#303030" stroke-width="0.81"/><circle cx="336.2" cy="609.7" r="1.7" fill="#fff" stroke="#303030" stroke-width="0.76"/>
<path d="M303.6 637L303.3 1330L300 1411.5" stroke="#444" stroke-width="0.85" stroke-dasharray="40 5 14 5"/>
<path d="M325.8 692V756" stroke="#444" stroke-width="0.76" stroke-dasharray="40 5 14 5"/>
<ellipse cx="325.7" cy="759.8" rx="4.1" ry="2.3" fill="#fff" stroke="#303030" stroke-width="0.81"/>
<path d="M321.6 768.6v4.6q1.4 2 4.2 2q2.8 0 4.2-2v-4.6" fill="#fff" stroke="#202020" stroke-width="0.90"/>
<ellipse cx="325.8" cy="768.4" rx="4.2" ry="2.4" fill="#fff" stroke="#202020" stroke-width="0.90"/>
<path d="M322 773.6q3.8 2.4 7.6 0" stroke="#202020" stroke-width="0.90"/>
<path d="M281 511.5L327 537L350.5 551L351 581" stroke="#444" stroke-width="0.76" stroke-dasharray="28 5 10 5"/>
<path d="M430 522L366 561.5" stroke="#444" stroke-width="0.76" stroke-dasharray="30 5 10 5"/>
<path d="M345.7 476.5V510" stroke="#444" stroke-width="0.76"/>
<path d="M537.4 688.5 L563.4 677.3 L567.1 677.3 L573.6 682.5 L573.6 684.3 L558.2 688.7 L557.0 690.2 L560.7 692.4 L574.6 692.2 L597.5 689.1 L622.2 703.3 L622.2 705.2 L614.4 707.6 L615.4 709.5 L621.0 710.7 L629.6 707.4 L664.9 728.1 L665.5 730.5 L653.8 735.6 L635.8 724.1 L611.7 734.6 L537.4 690.7 Z" fill="#fff" stroke="#303030" stroke-width="0.85"/>
<path d="M537.4 688.5 L611.7 732.4 L635.8 721.9 L653.8 733.4 L664.9 728.1 M611.7 732.4v2.2M653.8 733.4v2.2" stroke="#3c3c3c" stroke-width="0.76"/>
<path d="M586.3 711.4 L599.3 706.4 L608.0 711.4 L595.0 716.9 Z" stroke="#303030" stroke-width="0.81"/>
<path d="M589.2 712.2 L595.4 715.6 L605.8 711.4" stroke="#3c3c3c" stroke-width="0.66"/>
<ellipse cx="611.1" cy="720.0" rx="8.6" ry="4.5" stroke="#303030" stroke-width="0.81"/>
<path d="M603.5 722.4 Q611 726.5 618.8 722.2" stroke="#3c3c3c" stroke-width="0.66"/>
<ellipse cx="647.0" cy="721.5" rx="3.4" ry="2.0" stroke="#303030" stroke-width="0.76"/>
<path d="M560 692.4 L594.4 689.7 M584.1 668 L584.1 700.2" stroke="#444" stroke-width="0.76"/>
<path d="M537.4 687.8 L583.8 668.7" stroke="#444" stroke-width="0.76"/>
<path d="M567.3 791.0 C567.3 789.2 566.9 783.3 567.6 780.0 C568.3 776.7 569.4 773.2 571.5 771.0 C573.6 768.8 576.9 767.2 580.0 767.0 C583.1 766.8 586.8 767.8 590.0 769.5 C593.2 771.2 596.2 773.8 599.0 777.5 C601.8 781.2 604.4 786.0 606.5 792.0 C608.6 798.0 610.7 809.9 611.5 813.5" stroke="#333333" stroke-width="8.2" stroke-linecap="butt" fill="none"/><path d="M567.3 791.0 C567.3 789.2 566.9 783.3 567.6 780.0 C568.3 776.7 569.4 773.2 571.5 771.0 C573.6 768.8 576.9 767.2 580.0 767.0 C583.1 766.8 586.8 767.8 590.0 769.5 C593.2 771.2 596.2 773.8 599.0 777.5 C601.8 781.2 604.4 786.0 606.5 792.0 C608.6 798.0 610.7 809.9 611.5 813.5" stroke="#fff" stroke-width="6.7" stroke-linecap="butt" fill="none"/><path d="M571.0 791.1L563.6 790.9" stroke="#333333" stroke-width="0.76"/><path d="M615.1 812.7L607.9 814.3" stroke="#333333" stroke-width="0.76"/>
<ellipse cx="567.4" cy="791.0" rx="3.7" ry="1.5" fill="#fff" stroke="#303030" stroke-width="0.76"/>
<ellipse cx="611.4" cy="813.6" rx="3.7" ry="1.5" transform="rotate(-12.0 611.4 813.6)" fill="#fff" stroke="#303030" stroke-width="0.76"/>
<path d="M640.9 797.5 L689.4 777.7 L696.6 779.4 L697.2 776.2 L699.3 775.0 L702.3 774.8 L712.2 769.2 L854.8 853.0 L855.7 855.3 L832.0 864.5 L737.9 808.8 L697.3 824.3 L694.4 822.3 L689.0 821.4 L684.5 822.9 L640.9 800.5 Z" fill="#fff" stroke="#303030" stroke-width="0.85"/>
<path d="M640.9 797.5 L684.5 820.3 Q689 818.6 694.4 819.8 L697.3 821.7 L737 806.4 L830 860.8 L854.8 853 M830 860.8 L832 864.5" stroke="#3c3c3c" stroke-width="0.76"/>
<path d="M677.5 796.5 C680.5 795.2 690.8 790.2 695.3 788.6 C699.8 787.0 699.7 785.0 704.3 786.6 C708.9 788.2 720.1 796.0 723.1 798.5 C726.1 801.0 725.4 799.8 722.1 801.5 C718.8 803.2 707.4 807.7 703.3 809.0 C699.2 810.3 701.4 811.1 697.3 809.4 C693.2 807.6 681.8 800.6 678.5 798.5 C675.2 796.4 677.7 796.8 677.5 796.5 Z" stroke="#303030" stroke-width="0.81"/>
<path d="M682.5 797.1 L699.3 790.6 L718.1 800.5 L702.3 807" stroke="#3c3c3c" stroke-width="0.66" stroke-linejoin="round"/>
<ellipse cx="660.7" cy="797.5" rx="4.0" ry="2.4" stroke="#303030" stroke-width="0.81"/>
<ellipse cx="694.4" cy="784.1" rx="4.2" ry="2.4" stroke="#303030" stroke-width="0.81"/>
<ellipse cx="727.4" cy="803.1" rx="3.6" ry="2.2" stroke="#303030" stroke-width="0.81"/>
<ellipse cx="739.9" cy="802.5" rx="5.0" ry="3.0" stroke="#303030" stroke-width="0.81"/>
<ellipse cx="750.4" cy="810.0" rx="4.4" ry="2.6" stroke="#303030" stroke-width="0.81"/>
<ellipse cx="822.5" cy="852.0" rx="4.4" ry="2.6" stroke="#303030" stroke-width="0.81"/>
<circle cx="823.6" cy="798.2" r="2.9" fill="#fff" stroke="#303030" stroke-width="0.99"/>
<path d="M822.0 795.9 A2.9 2.9 0 0 0 822.0 800.5 L823.3 799.8 A1.7 1.7 0 0 1 823.3 796.6 Z" fill="#444" stroke="none"/>
<circle cx="824.0" cy="798.2" r="1.3" fill="#fff" stroke="#3c3c3c" stroke-width="0.76"/>
<circle cx="845.9" cy="802.3" r="2.9" fill="#fff" stroke="#303030" stroke-width="0.99"/>
<path d="M844.3 800.0 A2.9 2.9 0 0 0 844.3 804.6 L845.6 803.9 A1.7 1.7 0 0 1 845.6 800.7 Z" fill="#444" stroke="none"/>
<circle cx="846.3" cy="802.3" r="1.3" fill="#fff" stroke="#3c3c3c" stroke-width="0.76"/>
<path d="M826.5 799.6 L844.7 810.1 M848.8 803.7 L866.9 813.8" stroke="#444" stroke-width="0.76"/>
<path d="M846.5 811.2 L863 820.6" stroke="#444" stroke-width="0.76" stroke-dasharray="5 4"/>
<path d="M866.9 844.4 L862.8 846 Q858 845.5 856.2 842.7 Q852.3 838 852.1 831.5 Q852.5 827.5 856.2 825 L862.8 822.1 L866.9 820.4" fill="#fff" stroke="#202020" stroke-width="1.08"/>
<path d="M856.2 825.4 Q857.5 829.5 859.5 831.2 Q862.5 836 866.9 839.4 M862.2 822.6 L862.6 828.5 L866.5 826.8" fill="none" stroke="#303030" stroke-width="0.81"/>
<path d="M866.9 814.2 L869.4 811.8 L873.1 811 L874.4 813 L874.4 836.8 L872.7 841 L866.9 844.2 Z" fill="#fff" stroke="#202020" stroke-width="1.08"/>
<path d="M868.3 815.5 L868.3 842.5" stroke="#303030" stroke-width="0.76"/>
<circle cx="871.1" cy="816.7" r="0.9" fill="#202020" stroke="none"/><circle cx="871.1" cy="825" r="0.9" fill="#202020" stroke="none"/>
<path d="M871.5 816.9 L895.8 831.2 M871.5 825.2 L895.8 839.4" stroke="#444" stroke-width="0.76"/>
<path d="M771.2 883.4h5v3.4h1.4v2.6h-7.8v-2.6h1.4z" fill="#fff" stroke="#202020" stroke-width="0.90"/><path d="M771.4 891h4.6" stroke="#202020" stroke-width="0.90"/>
<path d="M719.4 896.2l3.2-1.6l2 3.6l-3.2 1.8z" fill="#fff" stroke="#202020" stroke-width="0.90"/><path d="M720.2 900.4l-3.8 3.2" stroke="#202020" stroke-width="1.44"/>
<path d="M716.0 904.0L680.0 932.0" stroke="#444" stroke-width="0.76"/>
<circle cx="645" cy="1005" r="1.2" stroke="#303030" stroke-width="0.76"/><circle cx="645" cy="1013.3" r="1.2" stroke="#303030" stroke-width="0.76"/>
<path d="M877.5 1136.2l5.4 3.1l-1.3 2.3l-5.4-3.1z" fill="#fff" stroke="#303030" stroke-width="0.81"/><path d="M883.6 1138.4l2.6 1.5l-2.1 3.7l-2.6-1.5z" fill="#fff" stroke="#202020" stroke-width="0.90"/>
<path d="M882.5 1149.6l5.4 3.1l-1.3 2.3l-5.4-3.1z" fill="#fff" stroke="#303030" stroke-width="0.81"/><path d="M888.6 1151.8l2.6 1.5l-2.1 3.7l-2.6-1.5z" fill="#fff" stroke="#202020" stroke-width="0.90"/>
<path d="M1096.3 1241.0 L1097.5 1238.5 L1123.0 1218.3 L1123.0 1213.3 L1131.3 1211.7 L1133.0 1215.0 L1161.3 1200.7 L1164.0 1203.3 L1164.0 1238.3 L1161.3 1241.7 L1136.3 1258.3 L1133.0 1260.0 L1131.3 1263.3 L1126.3 1261.7 L1099.7 1277.3 L1096.8 1276.0 Z" fill="#fff" stroke="#303030" stroke-width="0.85"/>
<circle cx="1100.4" cy="1239.6" r="1.3" stroke="#303030" stroke-width="0.76"/>
<path d="M1133.0 1262.0L1149.5 1271.5" stroke="#444" stroke-width="0.76"/>
<path d="M1149.6 1270.6l3.4 1.9l-1.5 2.7l-3.4-1.9z" fill="#fff" stroke="#202020" stroke-width="0.90"/><path d="M1153.4 1271.6l3 1.7l-2.4 4.3l-3-1.7z" fill="#fff" stroke="#202020" stroke-width="0.99"/>
<circle cx="959" cy="1333.3" r="4.7" fill="#fff" stroke="#303030" stroke-width="0.81"/>
<path d="M955.5 1336.4L939.6 1349.4M956.8 1337.8L940.8 1350.8" stroke="#303030" stroke-width="0.76"/>
<path d="M1021.3 1351.7 L1069.7 1315.7 L1076.3 1320.0 L1029.7 1358.3 Z" fill="#fff" stroke="#303030" stroke-width="0.85"/>
<path d="M1051.3 1341.7L1057.3 1370.0" stroke="#444" stroke-width="0.76"/>
<path d="M972.3 1428.7 L1124.7 1304.3 L1141.3 1313.3 L1143.0 1321.7 L988.0 1449.7 L981.0 1446.0 L979.5 1438.5 L973.0 1434.5 Z" fill="#fff" stroke="#303030" stroke-width="0.85"/>
<path d="M996 1432.5 L985.5 1441 L981 1446 M985.5 1441 L979.5 1438.5 M972.3 1428.7 L985.5 1436.5 L985.5 1441" stroke="#3c3c3c" stroke-width="0.76"/>
<path d="M1051.3 1341.7L1057.3 1370.0" stroke="#444" stroke-width="0.76"/>
<ellipse cx="1100.4" cy="1335.0" rx="2.6" ry="1.7" stroke="#303030" stroke-width="0.76"/>
<circle cx="1096.6" cy="1332" r="0.7" fill="#3c3c3c" stroke="none"/>
<ellipse cx="1012.0" cy="1407.4" rx="2.6" ry="1.7" stroke="#303030" stroke-width="0.76"/>
<circle cx="1008" cy="1404.4" r="0.7" fill="#3c3c3c" stroke="none"/>
<path d="M1104.7 1356.7L1109.7 1381.7" stroke="#444" stroke-width="0.76"/>
<ellipse cx="1110.3" cy="1385.0" rx="5.3" ry="3.6" fill="#fff" stroke="#303030" stroke-width="0.90"/>
<ellipse cx="1110.3" cy="1385.0" rx="3.0" ry="1.9" stroke="#303030" stroke-width="0.90"/>
<path d="M1016.3 1428.0L1030.7 1498.0" stroke="#444" stroke-width="0.76"/>
<ellipse cx="1021.7" cy="1457.3" rx="5.3" ry="3.6" fill="#fff" stroke="#303030" stroke-width="0.90"/>
<ellipse cx="1021.7" cy="1457.3" rx="3.0" ry="1.9" stroke="#303030" stroke-width="0.90"/>
<path d="M664.6 1370.2 L716.8 1398.6 Q719.8 1397.4 721 1399.4 L858.5 1478.3 Q856.6 1480.4 857.8 1482.6 L909.3 1511.4 L901.6 1521.6 L850.4 1492.4 Q847.6 1493.8 846.2 1491.8 L709.8 1411.8 Q711 1409.8 710 1408.2 L659.2 1380 Q657 1377.4 659 1372.8 Q661.5 1369 664.6 1370.2Z" fill="#fff" stroke="#303030" stroke-width="0.85"/>
<path d="M716.8 1398.6 Q712 1403 710 1408.2 M721 1399.4 Q714 1404.5 709.8 1411.8 M858.5 1478.3 Q851.5 1484 850.4 1492.4 M857.8 1482.6 Q853 1486 850.4 1492.4" stroke="#3c3c3c" stroke-width="0.76"/>
<ellipse cx="905.4" cy="1516.2" rx="3.7" ry="6.0" transform="rotate(-30.0 905.4 1516.2)" fill="#fff" stroke="#303030" stroke-width="0.90"/>
<ellipse cx="905.6" cy="1516.4" rx="2.5" ry="4.4" transform="rotate(-30.0 905.6 1516.4)" stroke="#3c3c3c" stroke-width="0.76"/>
<path d="M614.0 1347.0L658.0 1371.5" stroke="#444" stroke-width="0.76" stroke-dasharray="16 4"/>
<path d="M910.5 1518.5L939.5 1534.7" stroke="#444" stroke-width="0.76" stroke-dasharray="14 4"/>
<ellipse cx="951.6" cy="1543.4" rx="16.0" ry="21.6" transform="rotate(32.0 951.6 1543.4)" fill="#fff" stroke="#303030" stroke-width="0.85"/>
<ellipse cx="953.4" cy="1542.2" rx="16.0" ry="21.6" transform="rotate(32.0 953.4 1542.2)" fill="#fff" stroke="#303030" stroke-width="0.85"/>
<ellipse cx="953.4" cy="1542.4" rx="4.6" ry="6.0" transform="rotate(32.0 953.4 1542.4)" stroke="#303030" stroke-width="0.81"/>
<ellipse cx="961.6" cy="1531.2" rx="2.8" ry="4.0" transform="rotate(32.0 961.6 1531.2)" stroke="#303030" stroke-width="0.81"/>
<ellipse cx="962.0" cy="1546.8" rx="2.8" ry="4.0" transform="rotate(32.0 962.0 1546.8)" stroke="#303030" stroke-width="0.81"/>
<ellipse cx="945.4" cy="1538.8" rx="2.8" ry="4.0" transform="rotate(32.0 945.4 1538.8)" stroke="#303030" stroke-width="0.81"/>
<ellipse cx="946.6" cy="1555.2" rx="2.8" ry="4.0" transform="rotate(32.0 946.6 1555.2)" stroke="#303030" stroke-width="0.81"/>
<path d="M948.0 1556.3L996.0 1585.0" stroke="#444" stroke-width="0.76"/>
<path d="M996.4 1583.4l4.6 2.7l-1.4 2.5l-4.6-2.7z" fill="#fff" stroke="#303030" stroke-width="0.81"/><path d="M1001.6 1585.2l3.2 1.9l-2.4 4.3l-3.2-1.9z" fill="#fff" stroke="#202020" stroke-width="0.99"/>
<circle cx="560.7" cy="1455.7" r="3.2" fill="#fff" stroke="#303030" stroke-width="0.99"/>
<path d="M558.9 1453.1 A3.2 3.2 0 0 0 558.9 1458.3 L560.4 1457.5 A1.9 1.9 0 0 1 560.4 1453.9 Z" fill="#444" stroke="none"/>
<circle cx="561.2" cy="1455.7" r="1.4" fill="#fff" stroke="#3c3c3c" stroke-width="0.76"/>
<path d="M563.5 1458.0L591.7 1472.3" stroke="#444" stroke-width="0.76"/>
<path d="M185 1503.6l5 0.6l-4 28.4l-5-0.8z" fill="#9a9a9a" stroke="#303030" stroke-width="0.90"/><path d="M187.4 1504l-4 28.2" stroke="#eee" stroke-width="0.81"/><path d="M186 1503.8l-4 28.2M188.8 1504.2l-4 28.2" stroke="#444" stroke-width="0.57"/>
<path d="M188.3 1520.0L210.0 1531.7" stroke="#444" stroke-width="0.76"/></g>
<g id="leaders" stroke="#000" stroke-width="0.98" fill="none"><path d="M173.0 25.0L173.0 68.0 M92.7 45.0L127.7 74.0 M228.0 48.3L196.7 85.0 M62.3 74.0L106.0 98.3 M255.0 87.3L207.3 129.3 M281.7 108.3L242.7 131.7 M370.7 80.7L401.7 98.3 M40.7 125.0L75.0 145.0 M48.3 191.7L133.3 153.3 M142.7 206.7L156.7 214.0 M318.3 203.3L289.3 188.3 M199.3 206.0L186.7 265.0 M485.7 48.3L539.0 85.0 M665.0 96.7L635.7 113.3 M449.0 110.0L487.3 134.3 M614.0 128.3L647.3 148.3 M592.3 140.0L649.0 181.0 M559.0 190.0L580.7 201.7 M433.3 195.0L412.3 206.7 M554.0 238.3L585.7 256.0 M665.0 275.0L620.7 294.3 M381.7 205.0L420.7 234.0 M400.7 265.7L424.0 264.3 M404.0 296.7L425.0 284.0 M553.3 272.7L587.3 286.0 M548.3 314.3L586.7 304.3 M372.0 127.5L411.0 151.0 M112.7 306.3L142.7 324.0 M334.3 305.7L289.3 332.3 M303.3 280.0L335.0 261.7 M24.3 370.0L47.7 382.3 M339.3 364.0L301.7 385.0 M176.0 401.7L248.3 406.3 M178.3 466.3L224.0 460.0 M339.3 440.7L320.7 458.3 M174.3 529.0L225.0 504.7 M702.3 289.0L657.3 315.0 M686.7 340.7L714.7 356.7 M596.7 357.3L655.7 389.0 M447.3 356.7L520.7 384.0 M461.7 423.3L509.0 438.0 M460.0 443.0L506.7 468.3 M414.7 434.7L447.3 460.0 M411.3 463.3L444.7 475.0 M459.0 501.7L514.0 533.3 M176.7 607.3L257.3 600.0 M210.0 650.7L245.0 638.3 M233.3 706.7L289.3 676.0 M333.3 759.3L365.0 752.7 M334.3 771.7L365.0 782.7 M660.0 668.3L616.7 692.7 M696.7 725.0L609.3 776.0 M775.7 756.7L738.3 777.7 M854.0 777.7L826.7 794.3 M907.3 798.3L876.7 814.0 M778.3 886.0L856.0 930.7 M723.3 903.3L781.7 935.0 M915.0 1120.7L885.0 1137.3 M864.0 1165.7L882.7 1155.0 M1185.3 1198.3L1166.3 1208.3 M1181.3 1252.3L1154.7 1267.3 M963.0 1274.3L1049.7 1325.0 M949.7 1345.7L966.3 1355.7 M1116.3 1388.0L1139.0 1400.7 M1053.0 1403.0L1089.7 1423.0 M1028.0 1461.3L1059.7 1478.0 M897.3 1576.3L934.7 1555.7 M953.7 1616.3L999.0 1592.0 M536.7 1471.0L558.3 1458.3 M756.7 1487.3L795.0 1465.0 M155.0 1504.0L181.7 1518.3"/></g>
<g id="labels" opacity="0.999" font-family="'Liberation Sans', sans-serif" font-size="23.3" fill="#000"><text transform="translate(137.8 20.1) scale(0.97 1)">24:2</text>
<text transform="translate(53.8 47.3) scale(0.97 1)">25</text>
<text transform="translate(220.2 41.3) scale(0.97 1)">24</text>
<text transform="translate(28.5 83.9) scale(0.97 1)">17</text>
<text transform="translate(245.5 83.9) scale(0.97 1)">24:3</text>
<text transform="translate(286.8 119.6) scale(0.97 1)">25</text>
<text transform="translate(339.5 84.9) scale(0.97 1)">17</text>
<text transform="translate(3.5 135.6) scale(0.97 1)">13</text>
<text transform="translate(10.2 206.6) scale(0.97 1)">12</text>
<text transform="translate(107.8 207.9) scale(0.97 1)">14</text>
<text transform="translate(348.3 201.3) scale(0.97 1)">22</text>
<text transform="translate(316.2 227.3) scale(0.97 1)">11</text>
<text transform="translate(453.5 56.6) scale(0.97 1)">17</text>
<text transform="translate(660.2 98.3) scale(0.97 1)">43</text>
<text transform="translate(489.5 155.6) scale(0.97 1)">15</text>
<text transform="translate(405.2 170.6) scale(0.97 1)">16</text>
<text transform="translate(646.2 166.6) scale(0.97 1)">42</text>
<text transform="translate(646.2 197.9) scale(0.97 1)">41</text>
<text transform="translate(517.5 197.9) scale(0.97 1)">35</text>
<text transform="translate(432.5 199.9) scale(0.97 1)">17</text>
<text transform="translate(518.5 248.9) scale(0.97 1)">17</text>
<text transform="translate(514.0 283.1) scale(0.97 1)">28</text>
<text transform="translate(666.8 276.1) scale(0.97 1)">17</text>
<text transform="translate(142.2 294.6) scale(0.97 1)">24:3:1</text>
<text transform="translate(269.5 296.3) scale(0.97 1)">21</text>
<text transform="translate(364.5 313.9) scale(0.97 1)">49</text>
<text transform="translate(141.8 344.6) scale(0.97 1)">40</text>
<text transform="translate(248.5 347.3) scale(0.97 1)">20</text>
<text transform="translate(52.8 404.6) scale(0.97 1)">17</text>
<text transform="translate(263.8 402.3) scale(0.97 1)">19</text>
<text transform="translate(143.5 410.3) scale(0.97 1)">1:3</text>
<text transform="translate(369.5 428.9) scale(0.97 1)">45:1</text>
<text transform="translate(143.5 474.6) scale(0.97 1)">1:2</text>
<text transform="translate(299.5 479.6) scale(0.97 1)">18</text>
<text transform="translate(372.8 474.6) scale(0.97 1)">44</text>
<text transform="translate(143.5 538.6) scale(0.97 1)">1:1</text>
<text transform="translate(707.8 298.9) scale(0.97 1)">33</text>
<text transform="translate(513.5 326.3) scale(0.97 1)">17</text>
<text transform="translate(715.2 380.6) scale(0.97 1)">17</text>
<text transform="translate(661.8 407.6) scale(0.97 1)">34</text>
<text transform="translate(524.3 402.3) scale(0.97 1)">46</text>
<text transform="translate(507.8 456.3) scale(0.97 1)">49</text>
<text transform="translate(506.8 487.3) scale(0.97 1)">45</text>
<text transform="translate(512.8 552.1) scale(0.97 1)">44:1</text>
<text transform="translate(362.8 277.3) scale(0.97 1)">48</text>
<text transform="translate(164.5 614.6) scale(0.97 1)">1</text>
<text transform="translate(181.2 663.3) scale(0.97 1)">23</text>
<text transform="translate(216.2 725.6) scale(0.97 1)">1</text>
<text transform="translate(366.8 758.9) scale(0.97 1)">1:4:1</text>
<text transform="translate(366.8 794.6) scale(0.97 1)">1:4</text>
<text transform="translate(666.2 676.6) scale(0.97 1)">38</text>
<text transform="translate(704.5 734.9) scale(0.97 1)">26</text>
<text transform="translate(778.3 767.3) scale(0.97 1)">37</text>
<text transform="translate(852.8 783.3) scale(0.97 1)">12</text>
<text transform="translate(907.8 803.9) scale(0.97 1)">10</text>
<text transform="translate(859.0 945.9) scale(0.97 1)">27</text>
<text transform="translate(786.2 953.6) scale(0.97 1)">8</text>
<text transform="translate(917.8 1129.9) scale(0.97 1)">8</text>
<text transform="translate(842.5 1184.2) scale(0.97 1)">9</text>
<text transform="translate(1185.8 1205.6) scale(0.97 1)">29</text>
<text transform="translate(1184.8 1263.9) scale(0.97 1)">27</text>
<text transform="translate(897.5 1283.3) scale(0.97 1)">31:2</text>
<text transform="translate(966.5 1375.6) scale(0.97 1)">32</text>
<text transform="translate(1142.5 1418.8) scale(0.97 1)">30</text>
<text transform="translate(1094.2 1442.6) scale(0.97 1)">31</text>
<text transform="translate(1060.8 1497.9) scale(0.97 1)">30</text>
<text transform="translate(517.2 1486.6) scale(0.97 1)">7</text>
<text transform="translate(730.2 1501.6) scale(0.97 1)">2</text>
<text transform="translate(115.5 1513.3) scale(0.97 1)">52</text>
<text transform="translate(878.5 1594.6) scale(0.97 1)">3</text>
<text transform="translate(933.2 1633.6) scale(0.97 1)">6</text></g>
</svg>
</body></html>
